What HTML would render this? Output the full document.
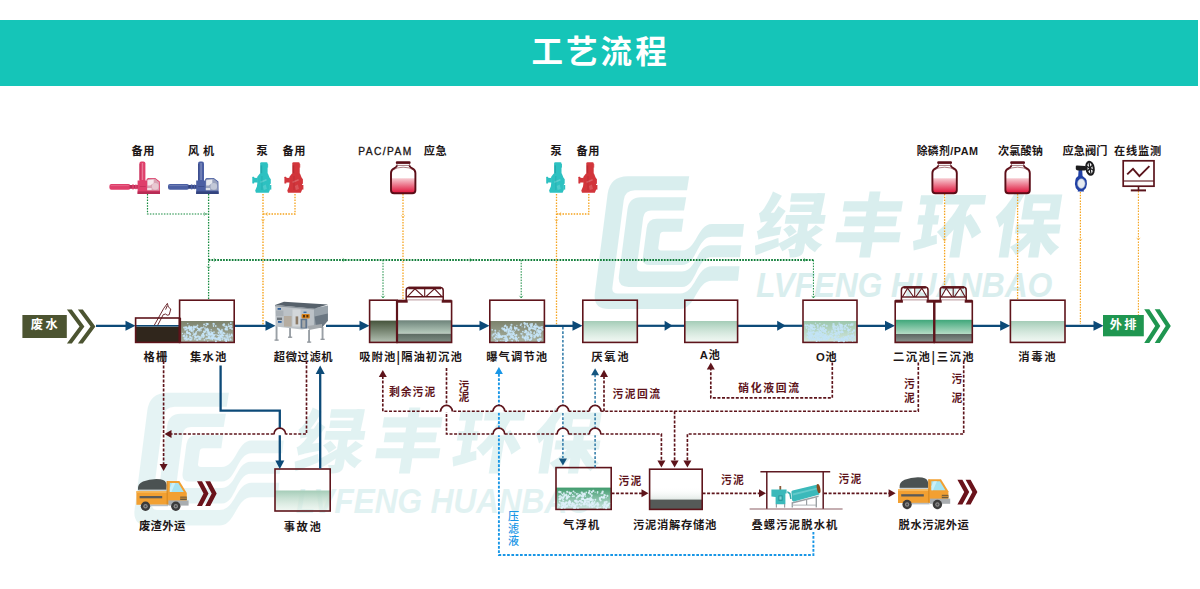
<!DOCTYPE html>
<html lang="zh-CN"><head><meta charset="utf-8"><title>工艺流程</title>
<style>
html,body{margin:0;padding:0;background:#fff;}
body{width:1200px;height:589px;overflow:hidden;font-family:"Liberation Sans","Noto Sans CJK SC",sans-serif;}
svg{display:block;font-family:"Liberation Sans","Noto Sans CJK SC",sans-serif;}
</style></head><body>
<svg width="1200" height="589" viewBox="0 0 1200 589">
<defs>
<linearGradient id="gWater" x1="0" y1="0" x2="0" y2="1"><stop offset="0" stop-color="#a4ccb7"/><stop offset="1" stop-color="#e6f2ea" stop-opacity="0.55"/></linearGradient>
<linearGradient id="gOlive" x1="0" y1="0" x2="0" y2="1"><stop offset="0" stop-color="#46543c"/><stop offset="1" stop-color="#b4c2b4"/></linearGradient>
<linearGradient id="gOil1" x1="0" y1="0" x2="0" y2="1"><stop offset="0" stop-color="#6d837a"/><stop offset="1" stop-color="#b9cdbf"/></linearGradient>
<linearGradient id="gOil2" x1="0" y1="0" x2="0" y2="1"><stop offset="0" stop-color="#5c6b62"/><stop offset="1" stop-color="#7f8f85"/></linearGradient>
<linearGradient id="gBub" x1="0" y1="0" x2="0" y2="1"><stop offset="0" stop-color="#7c826c"/><stop offset="1" stop-color="#aab4a4"/></linearGradient>
<linearGradient id="gBubG" x1="0" y1="0" x2="0" y2="1"><stop offset="0" stop-color="#9cc6ac"/><stop offset="1" stop-color="#d4e8de"/></linearGradient>
<linearGradient id="gFloat" x1="0" y1="0" x2="0" y2="1"><stop offset="0" stop-color="#3f9a6c"/><stop offset="1" stop-color="#cfe8e4"/></linearGradient>
<linearGradient id="gSed1" x1="0" y1="0" x2="0" y2="1"><stop offset="0" stop-color="#3fa77a"/><stop offset="1" stop-color="#b5dcc6"/></linearGradient>
<linearGradient id="gSed2" x1="0" y1="0" x2="0" y2="1"><stop offset="0" stop-color="#5d6662"/><stop offset="1" stop-color="#8b9590"/></linearGradient>
<linearGradient id="gStore" x1="0" y1="0" x2="0" y2="1"><stop offset="0" stop-color="#ffffff" stop-opacity="0"/><stop offset="0.45" stop-color="#ffffff" stop-opacity="0"/><stop offset="1" stop-color="#9fb8ad"/></linearGradient>
<linearGradient id="gJar" x1="0" y1="0" x2="0" y2="1"><stop offset="0" stop-color="#f7cdd3"/><stop offset="1" stop-color="#df0f37"/></linearGradient>
</defs>

<rect x="0" y="20" width="1198" height="66" fill="#15c5b8"/>
<text x="600.6" y="63" font-size="31.5" font-weight="700" fill="#fff" text-anchor="middle" letter-spacing="3.1">工艺流程</text>
<g opacity="0.155" transform="translate(0,0)" fill="#14999b">
<path d="M689.2,176.3 L627.9,176.3 Q609.9,176.3 607.6,194.3 L594.9,293.0 Q592.8,309.0 608.8,309.0 L680.0,309.0 C696.0,309.0 696.0,280.8 712.0,280.8 L738.0,280.8 L739.5,266.3 L712.0,266.3 C696.0,266.3 696.0,293.5 680.0,293.5 L617.6,293.5 Q611.6,293.5 612.4,287.5 L623.7,200.2 Q624.9,190.2 634.9,190.2 L687.0,190.2 Z"/>
<path d="M686.2,197.3 L641.0,197.3 Q629.0,197.3 627.5,209.3 L618.9,276.0 Q617.5,287.0 628.5,287.0 L682.0,287.0 C696.5,287.0 696.5,257.2 711.0,257.2 L740.0,257.2 L741.3,245.3 L711.0,245.3 C696.5,245.3 696.5,271.5 682.0,271.5 L641.3,271.5 Q636.3,271.5 636.9,266.5 L643.2,217.4 Q644.1,210.4 651.1,210.4 L684.0,210.4 Z"/>
<path d="M683.4,218.8 L656.9,218.8 Q647.9,218.8 646.7,227.8 L642.9,257.0 Q641.9,265.0 649.9,265.0 L682.0,265.0 C697.0,265.0 697.0,236.7 712.0,236.7 L742.6,236.7 L744.0,224.0 L712.0,224.0 C697.0,224.0 697.0,250.5 682.0,250.5 L661.0,250.5 Q658.0,250.5 658.3,247.5 L660.0,234.8 Q660.4,231.8 663.4,231.8 L681.6,231.8 Z"/>
</g>
<g opacity="0.155">
<g transform="translate(0,0)" fill="#14999b">
<text x="752" y="251" font-size="69.5" font-weight="900" letter-spacing="9.6" transform="translate(752,251) skewX(-9) translate(-752,-251)">绿丰环保</text>
<text x="756" y="296.6" font-size="35.5" font-weight="700" font-style="italic" letter-spacing="-0.3" textLength="296" lengthAdjust="spacingAndGlyphs">LVFENG HUANBAO</text>
</g></g>
<g opacity="0.105" transform="translate(-460.3,216.5)" fill="#14999b">
<path d="M689.2,176.3 L627.9,176.3 Q609.9,176.3 607.6,194.3 L594.9,293.0 Q592.8,309.0 608.8,309.0 L680.0,309.0 C696.0,309.0 696.0,280.8 712.0,280.8 L738.0,280.8 L739.5,266.3 L712.0,266.3 C696.0,266.3 696.0,293.5 680.0,293.5 L617.6,293.5 Q611.6,293.5 612.4,287.5 L623.7,200.2 Q624.9,190.2 634.9,190.2 L687.0,190.2 Z"/>
<path d="M686.2,197.3 L641.0,197.3 Q629.0,197.3 627.5,209.3 L618.9,276.0 Q617.5,287.0 628.5,287.0 L682.0,287.0 C696.5,287.0 696.5,257.2 711.0,257.2 L740.0,257.2 L741.3,245.3 L711.0,245.3 C696.5,245.3 696.5,271.5 682.0,271.5 L641.3,271.5 Q636.3,271.5 636.9,266.5 L643.2,217.4 Q644.1,210.4 651.1,210.4 L684.0,210.4 Z"/>
<path d="M683.4,218.8 L656.9,218.8 Q647.9,218.8 646.7,227.8 L642.9,257.0 Q641.9,265.0 649.9,265.0 L682.0,265.0 C697.0,265.0 697.0,236.7 712.0,236.7 L742.6,236.7 L744.0,224.0 L712.0,224.0 C697.0,224.0 697.0,250.5 682.0,250.5 L661.0,250.5 Q658.0,250.5 658.3,247.5 L660.0,234.8 Q660.4,231.8 663.4,231.8 L681.6,231.8 Z"/>
</g>
<g opacity="0.12">
<g transform="translate(-460.3,216.5)" fill="#14999b">
<text x="752" y="251" font-size="69.5" font-weight="900" letter-spacing="9.6" transform="translate(752,251) skewX(-9) translate(-752,-251)">绿丰环保</text>
<text x="756" y="296.6" font-size="35.5" font-weight="700" font-style="italic" letter-spacing="-0.3" textLength="296" lengthAdjust="spacingAndGlyphs">LVFENG HUANBAO</text>
</g></g>
<path d="M147.5,194 L147.5,214 L208.6,214" fill="none" stroke="#148a3e" stroke-width="1.2" stroke-dasharray="1.5 1.3" />
<path d="M208.6,194 L208.6,299" fill="none" stroke="#148a3e" stroke-width="1.3" stroke-dasharray="1.5 1.3" />
<path d="M208.6,260 L813.4,260" fill="none" stroke="#0f7d38" stroke-width="1.9" stroke-dasharray="1.7 1.2" />
<path d="M383,260 L383,299" fill="none" stroke="#148a3e" stroke-width="1.0" stroke-dasharray="1.5 1.3" />
<path d="M521.2,260 L521.2,299" fill="none" stroke="#148a3e" stroke-width="1.0" stroke-dasharray="1.5 1.3" />
<path d="M813.4,260 L813.4,299" fill="none" stroke="#148a3e" stroke-width="1.0" stroke-dasharray="1.5 1.3" />
<path d="M263,194 L263,325" fill="none" stroke="#f5a31c" stroke-width="1.4" stroke-dasharray="1.5 1.3" />
<path d="M295,194 L295,214 L263,214" fill="none" stroke="#f5a31c" stroke-width="1.3" stroke-dasharray="1.5 1.3" />
<path d="M403,194 L403,299" fill="none" stroke="#f5a31c" stroke-width="1.3" stroke-dasharray="1.5 1.3" />
<path d="M556.5,194 L556.5,325" fill="none" stroke="#f5a31c" stroke-width="1.3" stroke-dasharray="1.5 1.3" />
<path d="M588.8,194 L588.8,214 L556.5,214" fill="none" stroke="#f5a31c" stroke-width="1.3" stroke-dasharray="1.5 1.3" />
<path d="M944.6,194 L944.6,288" fill="none" stroke="#f5a31c" stroke-width="1.3" stroke-dasharray="1.5 1.3" />
<path d="M1017.6,194 L1017.6,299" fill="none" stroke="#f5a31c" stroke-width="1.3" stroke-dasharray="1.5 1.3" />
<path d="M1080.4,192 L1080.4,324" fill="none" stroke="#f5a31c" stroke-width="1.2" stroke-dasharray="1.5 1.3" />
<path d="M1138.4,191 L1138.4,315" fill="none" stroke="#f5a31c" stroke-width="1.1" stroke-dasharray="1.5 1.3" />
<path d="M203.8,212.3 L206,214 L203.8,215.7" fill="none" stroke="#148a3e" stroke-width="0.7" opacity="0.85"/>
<path d="M206.9,266.3 L208.6,268.5 L210.29999999999998,266.3" fill="none" stroke="#148a3e" stroke-width="0.7" opacity="0.85"/>
<path d="M213.8,258.3 L216,260 L213.8,261.7" fill="none" stroke="#148a3e" stroke-width="0.7" opacity="0.85"/>
<path d="M342.8,258.3 L345,260 L342.8,261.7" fill="none" stroke="#148a3e" stroke-width="0.7" opacity="0.85"/>
<path d="M469.8,258.3 L472,260 L469.8,261.7" fill="none" stroke="#148a3e" stroke-width="0.7" opacity="0.85"/>
<path d="M643.8,258.3 L646,260 L643.8,261.7" fill="none" stroke="#148a3e" stroke-width="0.7" opacity="0.85"/>
<path d="M803.8,258.3 L806,260 L803.8,261.7" fill="none" stroke="#148a3e" stroke-width="0.7" opacity="0.85"/>
<path d="M381.3,295.8 L383,298 L384.7,295.8" fill="none" stroke="#148a3e" stroke-width="0.7" opacity="0.85"/>
<path d="M519.5,295.8 L521.2,298 L522.9000000000001,295.8" fill="none" stroke="#148a3e" stroke-width="0.7" opacity="0.85"/>
<path d="M811.6999999999999,295.8 L813.4,298 L815.1,295.8" fill="none" stroke="#148a3e" stroke-width="0.7" opacity="0.85"/>
<path d="M267.7,212.3 L265.5,214 L267.7,215.7" fill="none" stroke="#f5a31c" stroke-width="0.7" opacity="0.85"/>
<path d="M261.3,219.3 L263,221.5 L264.7,219.3" fill="none" stroke="#f5a31c" stroke-width="0.7" opacity="0.85"/>
<path d="M401.3,215.3 L403,217.5 L404.7,215.3" fill="none" stroke="#f5a31c" stroke-width="0.7" opacity="0.85"/>
<path d="M561.2,212.3 L559,214 L561.2,215.7" fill="none" stroke="#f5a31c" stroke-width="0.7" opacity="0.85"/>
<path d="M554.8,219.3 L556.5,221.5 L558.2,219.3" fill="none" stroke="#f5a31c" stroke-width="0.7" opacity="0.85"/>
<path d="M942.9,238.8 L944.6,241 L946.3000000000001,238.8" fill="none" stroke="#f5a31c" stroke-width="0.7" opacity="0.85"/>
<path d="M1015.9,238.8 L1017.6,241 L1019.3000000000001,238.8" fill="none" stroke="#f5a31c" stroke-width="0.7" opacity="0.85"/>
<path d="M1078.7,238.8 L1080.4,241 L1082.1000000000001,238.8" fill="none" stroke="#f5a31c" stroke-width="0.7" opacity="0.85"/>
<path d="M1136.7,237.8 L1138.4,240 L1140.1000000000001,237.8" fill="none" stroke="#f5a31c" stroke-width="0.7" opacity="0.85"/>
<path d="M96,325.8 L130.5,325.8" fill="none" stroke="#0c4a78" stroke-width="2.2" />
<polygon points="135.5,325.8 125.5,320.8 125.5,330.8" fill="#0c4a78"/>
<path d="M234,325.8 L270.5,325.8" fill="none" stroke="#0c4a78" stroke-width="2.2" />
<polygon points="275.5,325.8 265.5,320.8 265.5,330.8" fill="#0c4a78"/>
<path d="M326,325.8 L364.5,325.8" fill="none" stroke="#0c4a78" stroke-width="2.2" />
<polygon points="369.5,325.8 359.5,320.8 359.5,330.8" fill="#0c4a78"/>
<path d="M452,325.8 L484.5,325.8" fill="none" stroke="#0c4a78" stroke-width="2.2" />
<polygon points="489.5,325.8 479.5,320.8 479.5,330.8" fill="#0c4a78"/>
<path d="M545,325.8 L577.5,325.8" fill="none" stroke="#0c4a78" stroke-width="2.2" />
<polygon points="582.5,325.8 572.5,320.8 572.5,330.8" fill="#0c4a78"/>
<path d="M638,325.8 L667.6,325.8" fill="none" stroke="#0c4a78" stroke-width="2.2" />
<polygon points="672.6,325.8 664.6,320.8 664.6,330.8" fill="#0c4a78"/>
<path d="M666,325.8 L684.5,325.8" fill="none" stroke="#0c4a78" stroke-width="2.2" />
<path d="M738,325.8 L780.8,325.8" fill="none" stroke="#0c4a78" stroke-width="2.2" />
<polygon points="785.8,325.8 777.1999999999999,320.8 777.1999999999999,330.8" fill="#0c4a78"/>
<path d="M779,325.8 L802.8,325.8" fill="none" stroke="#0c4a78" stroke-width="2.2" />
<path d="M857,325.8 L890,325.8" fill="none" stroke="#0c4a78" stroke-width="2.2" />
<polygon points="895,325.8 885,320.8 885,330.8" fill="#0c4a78"/>
<path d="M972,325.8 L1005.2,325.8" fill="none" stroke="#0c4a78" stroke-width="2.2" />
<polygon points="1010.2,325.8 1000.2,320.8 1000.2,330.8" fill="#0c4a78"/>
<path d="M1065,325.8 L1098.5,325.8" fill="none" stroke="#0c4a78" stroke-width="2.2" />
<polygon points="1103.5,325.8 1093.5,320.8 1093.5,330.8" fill="#0c4a78"/>
<rect x="22.4" y="315" width="44.4" height="23" fill="#4c5431"/>
<text x="45.6" y="329.4" font-size="12.2" fill="#fff" font-weight="700" text-anchor="middle" letter-spacing="2.6" >废水</text>
<polygon points="66.9,309.4 71.8,309.4 84.4,326.4 71.8,343.4 66.9,343.4 79.5,326.4" fill="#4c5431"/>
<polygon points="77.9,309.4 82.8,309.4 95.4,326.4 82.8,343.4 77.9,343.4 90.5,326.4" fill="#4c5431"/>
<rect x="1103" y="315" width="40.8" height="21.3" fill="#1f9650"/>
<text x="1124.2" y="329.2" font-size="12.2" fill="#fff" font-weight="700" text-anchor="middle" letter-spacing="2.2" >外排</text>
<polygon points="1144.2,309.2 1149.3,309.2 1160.3,326.1 1149.3,343.0 1144.2,343.0 1155.2,326.1" fill="#1f9650"/>
<polygon points="1154.7,309.2 1159.8,309.2 1170.8,326.1 1159.8,343.0 1154.7,343.0 1165.7,326.1" fill="#1f9650"/>
<rect x="135.6" y="326.6" width="44" height="15.8" fill="#30261c"/>
<path d="M135.6,325.8 L179.6,325.8" fill="none" stroke="#0c4a78" stroke-width="1.6" />
<rect x="135.6" y="318" width="44" height="24.4" fill="none" stroke="#5e141b" stroke-width="1.6"/>
<path d="M154.2,325.4 L163.8,308.3 L167.4,303.4 L168.3,307 L170.8,309 L169.2,314.8 Q167,316 165.6,314 L163.2,314.7 L157.6,325.4 M165.6,309.6 L167.2,305.8" fill="none" stroke="#5e141b" stroke-width="0.9" />
<rect x="179.6" y="321" width="54.599999999999994" height="21.399999999999977" fill="url(#gBub)"/>
<rect x="179.6" y="300.2" width="54.599999999999994" height="42.19999999999999" fill="none" stroke="#5e141b" stroke-width="1.6"/>
<g fill="#c6e5f8" fill-opacity="0.88"><circle cx="191.5" cy="339.6" r="0.86"/><circle cx="188.7" cy="338.7" r="0.87"/><circle cx="190.7" cy="337.3" r="0.94"/><circle cx="189.7" cy="336.1" r="0.72"/><circle cx="222.0" cy="333.9" r="0.90"/><circle cx="223.1" cy="333.3" r="0.69"/><circle cx="221.3" cy="334.0" r="0.69"/><circle cx="219.9" cy="334.4" r="0.70"/><circle cx="195.6" cy="327.0" r="1.15"/><circle cx="194.8" cy="327.4" r="0.96"/><circle cx="193.9" cy="326.6" r="1.03"/><circle cx="197.5" cy="325.5" r="0.88"/><circle cx="204.4" cy="339.9" r="0.81"/><circle cx="206.3" cy="338.5" r="1.12"/><circle cx="221.1" cy="336.7" r="1.10"/><circle cx="218.6" cy="337.8" r="0.86"/><circle cx="219.3" cy="338.6" r="0.95"/><circle cx="218.4" cy="335.4" r="0.66"/><circle cx="220.4" cy="336.5" r="0.68"/><circle cx="222.2" cy="335.5" r="0.81"/><circle cx="198.4" cy="336.6" r="1.02"/><circle cx="197.2" cy="339.8" r="1.17"/><circle cx="201.3" cy="337.5" r="0.63"/><circle cx="199.8" cy="337.2" r="1.17"/><circle cx="203.7" cy="331.3" r="0.82"/><circle cx="208.2" cy="330.1" r="1.06"/><circle cx="205.1" cy="331.6" r="1.07"/><circle cx="204.9" cy="328.8" r="0.67"/><circle cx="207.9" cy="331.0" r="1.10"/><circle cx="206.6" cy="329.9" r="1.16"/><circle cx="186.4" cy="339.0" r="0.96"/><circle cx="186.1" cy="338.8" r="0.65"/><circle cx="185.4" cy="338.3" r="0.73"/><circle cx="186.0" cy="337.0" r="0.76"/><circle cx="206.2" cy="323.4" r="0.71"/><circle cx="207.5" cy="324.1" r="1.18"/><circle cx="206.1" cy="325.7" r="0.57"/><circle cx="207.5" cy="324.0" r="0.88"/><circle cx="212.4" cy="334.5" r="0.92"/><circle cx="212.4" cy="337.2" r="0.59"/><circle cx="212.1" cy="338.8" r="1.12"/><circle cx="212.3" cy="337.9" r="0.75"/><circle cx="215.9" cy="334.7" r="0.82"/><circle cx="213.4" cy="335.7" r="1.12"/><circle cx="230.2" cy="336.3" r="0.92"/><circle cx="231.6" cy="334.6" r="0.87"/><circle cx="231.4" cy="335.2" r="0.88"/><circle cx="232.1" cy="335.9" r="0.81"/><circle cx="229.8" cy="336.4" r="1.11"/><circle cx="222.6" cy="335.2" r="1.09"/><circle cx="223.4" cy="332.9" r="1.12"/><circle cx="221.4" cy="332.0" r="1.19"/><circle cx="222.3" cy="335.4" r="0.61"/><circle cx="223.8" cy="335.9" r="0.69"/><circle cx="201.2" cy="327.6" r="0.87"/><circle cx="198.3" cy="328.6" r="0.76"/><circle cx="199.4" cy="330.4" r="1.19"/><circle cx="201.2" cy="330.2" r="0.62"/><circle cx="197.6" cy="328.1" r="0.60"/><circle cx="198.8" cy="329.1" r="1.17"/><circle cx="199.3" cy="329.2" r="1.06"/><circle cx="200.7" cy="328.7" r="0.99"/><circle cx="205.0" cy="328.0" r="0.83"/><circle cx="206.1" cy="325.4" r="0.90"/><circle cx="204.1" cy="324.4" r="1.01"/><circle cx="202.7" cy="327.7" r="0.74"/><circle cx="196.7" cy="326.6" r="0.75"/><circle cx="186.9" cy="339.7" r="0.95"/><circle cx="188.0" cy="339.0" r="1.00"/><circle cx="185.4" cy="338.3" r="0.90"/><circle cx="185.6" cy="340.1" r="0.60"/><circle cx="203.5" cy="335.5" r="0.76"/><circle cx="203.3" cy="337.1" r="1.13"/><circle cx="204.1" cy="335.9" r="0.90"/><circle cx="211.5" cy="332.7" r="0.72"/><circle cx="212.6" cy="332.3" r="0.56"/><circle cx="184.1" cy="335.9" r="0.88"/><circle cx="183.7" cy="336.0" r="1.17"/><circle cx="184.8" cy="338.5" r="1.19"/><circle cx="184.1" cy="335.4" r="0.62"/><circle cx="197.7" cy="336.5" r="0.96"/><circle cx="196.2" cy="337.4" r="1.16"/><circle cx="232.0" cy="329.1" r="0.98"/><circle cx="230.6" cy="327.9" r="1.18"/><circle cx="231.3" cy="325.9" r="0.90"/><circle cx="231.6" cy="326.3" r="0.81"/><circle cx="229.9" cy="328.3" r="0.57"/><circle cx="229.6" cy="326.3" r="0.92"/><circle cx="189.0" cy="332.7" r="0.73"/><circle cx="185.1" cy="329.6" r="0.61"/><circle cx="185.0" cy="330.0" r="0.76"/><circle cx="226.2" cy="340.8" r="0.86"/><circle cx="226.3" cy="340.6" r="0.91"/><circle cx="229.0" cy="337.7" r="0.73"/><circle cx="213.2" cy="323.8" r="0.88"/><circle cx="214.4" cy="324.0" r="0.74"/><circle cx="213.5" cy="326.4" r="0.66"/><circle cx="213.6" cy="323.4" r="0.61"/><circle cx="215.7" cy="326.0" r="0.88"/><circle cx="213.5" cy="325.3" r="0.83"/><circle cx="227.3" cy="334.1" r="0.78"/><circle cx="227.4" cy="335.9" r="1.02"/><circle cx="229.2" cy="334.2" r="0.72"/><circle cx="231.8" cy="334.2" r="0.64"/><circle cx="217.0" cy="339.0" r="1.18"/><circle cx="218.3" cy="339.6" r="0.83"/><circle cx="191.7" cy="329.2" r="0.94"/><circle cx="190.3" cy="329.8" r="0.74"/><circle cx="191.0" cy="331.6" r="0.55"/><circle cx="191.6" cy="330.7" r="0.56"/><circle cx="189.4" cy="328.1" r="1.09"/><circle cx="191.9" cy="330.8" r="1.09"/><circle cx="190.0" cy="329.6" r="1.11"/><circle cx="193.7" cy="329.8" r="0.82"/><circle cx="193.7" cy="329.3" r="1.12"/><circle cx="194.8" cy="338.9" r="0.90"/><circle cx="195.5" cy="337.0" r="1.18"/><circle cx="187.4" cy="333.1" r="1.04"/><circle cx="189.2" cy="332.9" r="1.02"/><circle cx="188.4" cy="333.6" r="0.77"/><circle cx="189.3" cy="330.6" r="0.62"/><circle cx="225.6" cy="328.8" r="1.03"/><circle cx="227.1" cy="329.5" r="1.15"/><circle cx="225.7" cy="329.4" r="1.16"/><circle cx="226.1" cy="326.6" r="1.01"/><circle cx="206.2" cy="335.1" r="0.83"/><circle cx="202.0" cy="336.6" r="0.93"/><circle cx="204.3" cy="332.3" r="1.04"/><circle cx="202.0" cy="335.2" r="0.97"/><circle cx="203.3" cy="333.6" r="0.81"/><circle cx="203.1" cy="333.8" r="1.16"/><circle cx="224.2" cy="338.2" r="1.07"/><circle cx="218.7" cy="339.1" r="0.75"/><circle cx="219.5" cy="338.3" r="0.66"/><circle cx="219.4" cy="338.0" r="0.61"/><circle cx="220.2" cy="337.8" r="0.59"/><circle cx="219.8" cy="338.3" r="1.01"/><circle cx="197.2" cy="328.4" r="0.60"/><circle cx="197.2" cy="327.7" r="0.79"/><circle cx="193.7" cy="328.9" r="0.66"/><circle cx="212.9" cy="337.5" r="0.81"/><circle cx="213.0" cy="336.7" r="0.72"/><circle cx="212.5" cy="334.5" r="0.72"/><circle cx="213.6" cy="335.2" r="0.98"/><circle cx="225.2" cy="338.0" r="0.72"/><circle cx="226.4" cy="339.3" r="1.12"/><circle cx="222.2" cy="337.6" r="1.16"/><circle cx="226.4" cy="340.9" r="0.85"/><circle cx="225.5" cy="340.3" r="1.13"/><circle cx="203.7" cy="327.1" r="0.75"/><circle cx="205.5" cy="330.0" r="0.87"/><circle cx="190.5" cy="327.4" r="0.99"/><circle cx="185.9" cy="327.2" r="1.02"/><circle cx="189.1" cy="326.2" r="0.98"/><circle cx="187.5" cy="328.9" r="0.66"/><circle cx="188.0" cy="328.0" r="0.84"/><circle cx="187.8" cy="323.6" r="0.70"/><circle cx="196.4" cy="331.9" r="0.94"/><circle cx="201.0" cy="330.8" r="0.58"/><circle cx="197.6" cy="330.6" r="0.76"/><circle cx="195.1" cy="334.2" r="1.15"/><circle cx="194.0" cy="334.7" r="1.04"/><circle cx="191.8" cy="338.0" r="0.92"/><circle cx="190.3" cy="339.7" r="0.97"/><circle cx="190.2" cy="339.4" r="0.90"/><circle cx="218.9" cy="329.5" r="1.00"/><circle cx="222.0" cy="329.6" r="0.80"/><circle cx="217.8" cy="328.7" r="0.97"/><circle cx="220.7" cy="331.6" r="1.16"/><circle cx="219.4" cy="330.5" r="0.94"/><circle cx="208.1" cy="332.2" r="1.01"/><circle cx="206.5" cy="332.0" r="0.60"/><circle cx="209.8" cy="334.4" r="1.18"/><circle cx="210.9" cy="333.0" r="0.61"/><circle cx="186.5" cy="327.6" r="1.08"/><circle cx="184.3" cy="327.6" r="1.19"/><circle cx="187.1" cy="331.5" r="1.13"/><circle cx="182.5" cy="333.5" r="0.73"/><circle cx="184.9" cy="334.0" r="0.75"/><circle cx="224.3" cy="326.2" r="0.63"/><circle cx="224.1" cy="324.4" r="1.10"/><circle cx="223.4" cy="325.0" r="1.15"/><circle cx="211.0" cy="331.8" r="0.80"/><circle cx="210.3" cy="333.8" r="0.63"/><circle cx="212.3" cy="333.1" r="1.07"/><circle cx="209.4" cy="332.3" r="0.76"/><circle cx="195.2" cy="336.3" r="1.14"/><circle cx="195.5" cy="337.5" r="0.59"/><circle cx="230.3" cy="339.0" r="0.64"/><circle cx="225.6" cy="339.8" r="1.20"/><circle cx="223.6" cy="335.5" r="0.79"/><circle cx="220.0" cy="337.3" r="0.77"/><circle cx="220.4" cy="335.7" r="0.71"/><circle cx="220.9" cy="336.4" r="0.62"/><circle cx="222.3" cy="339.3" r="1.01"/><circle cx="220.1" cy="340.1" r="0.92"/><circle cx="213.3" cy="337.6" r="1.11"/><circle cx="215.4" cy="338.4" r="1.10"/><circle cx="213.6" cy="337.2" r="1.13"/><circle cx="210.4" cy="338.7" r="1.14"/><circle cx="212.5" cy="339.7" r="0.60"/><circle cx="214.2" cy="335.4" r="0.81"/><circle cx="213.8" cy="338.5" r="0.80"/><circle cx="212.3" cy="338.0" r="0.95"/><circle cx="208.6" cy="332.4" r="0.67"/><circle cx="206.8" cy="335.5" r="0.55"/><circle cx="208.6" cy="334.4" r="1.13"/><circle cx="207.5" cy="330.1" r="0.90"/><circle cx="214.0" cy="332.1" r="0.89"/><circle cx="208.9" cy="332.1" r="0.84"/><circle cx="211.7" cy="334.2" r="0.64"/><circle cx="211.2" cy="329.7" r="0.71"/><circle cx="212.2" cy="333.2" r="0.98"/><circle cx="212.2" cy="333.5" r="0.73"/><circle cx="217.5" cy="335.3" r="0.80"/><circle cx="212.0" cy="337.0" r="0.79"/><circle cx="219.7" cy="330.6" r="0.64"/><circle cx="222.2" cy="335.4" r="1.08"/><circle cx="218.6" cy="332.5" r="1.06"/><circle cx="220.7" cy="331.6" r="1.16"/><circle cx="218.7" cy="333.3" r="0.73"/><circle cx="200.7" cy="338.8" r="0.83"/><circle cx="200.2" cy="339.5" r="0.65"/><circle cx="199.1" cy="338.6" r="0.65"/><circle cx="199.3" cy="338.6" r="0.97"/><circle cx="199.2" cy="339.3" r="0.83"/><circle cx="226.8" cy="327.4" r="1.18"/><circle cx="230.6" cy="325.8" r="0.82"/><circle cx="228.6" cy="324.3" r="0.72"/><circle cx="228.7" cy="326.3" r="1.07"/><circle cx="230.8" cy="323.1" r="0.99"/><circle cx="186.4" cy="329.1" r="0.81"/><circle cx="185.8" cy="329.6" r="0.65"/><circle cx="185.3" cy="329.1" r="0.66"/><circle cx="187.1" cy="332.6" r="1.16"/><circle cx="211.3" cy="337.2" r="0.96"/><circle cx="209.3" cy="338.0" r="1.04"/><circle cx="208.7" cy="337.2" r="1.13"/><circle cx="208.7" cy="338.0" r="0.96"/><circle cx="207.8" cy="341.1" r="0.62"/><circle cx="207.6" cy="338.4" r="0.71"/><circle cx="190.6" cy="328.0" r="1.09"/><circle cx="186.3" cy="328.1" r="0.73"/><circle cx="188.8" cy="328.4" r="0.87"/><circle cx="188.0" cy="328.3" r="0.71"/><circle cx="191.4" cy="330.2" r="1.03"/><circle cx="188.6" cy="327.6" r="0.65"/><circle cx="206.5" cy="334.2" r="0.76"/><circle cx="207.9" cy="333.3" r="0.72"/><circle cx="209.0" cy="333.6" r="1.01"/><circle cx="207.8" cy="335.3" r="0.75"/><circle cx="208.8" cy="337.3" r="1.08"/><circle cx="210.6" cy="334.5" r="1.03"/><circle cx="195.5" cy="336.6" r="0.71"/><circle cx="196.3" cy="334.0" r="0.58"/><circle cx="186.7" cy="337.6" r="0.79"/><circle cx="189.9" cy="337.4" r="0.79"/><circle cx="186.3" cy="334.1" r="0.61"/><circle cx="186.6" cy="336.2" r="1.13"/><circle cx="219.1" cy="337.1" r="0.95"/><circle cx="219.1" cy="335.7" r="0.90"/><circle cx="218.4" cy="337.7" r="0.96"/><circle cx="220.6" cy="335.9" r="0.88"/><circle cx="193.4" cy="327.8" r="1.16"/><circle cx="191.4" cy="328.2" r="1.01"/><circle cx="191.4" cy="327.1" r="1.19"/><circle cx="190.1" cy="328.8" r="1.07"/><circle cx="189.3" cy="327.5" r="0.95"/><circle cx="190.6" cy="327.8" r="0.60"/><circle cx="212.6" cy="333.1" r="0.77"/><circle cx="211.6" cy="334.7" r="1.10"/><circle cx="209.7" cy="336.2" r="0.63"/><circle cx="209.9" cy="334.6" r="0.98"/><circle cx="211.6" cy="333.5" r="0.56"/><circle cx="228.8" cy="336.2" r="0.62"/><circle cx="230.6" cy="339.5" r="0.99"/><circle cx="228.7" cy="340.5" r="0.81"/><circle cx="228.2" cy="339.4" r="1.06"/><circle cx="227.4" cy="337.7" r="1.08"/><circle cx="220.4" cy="333.0" r="0.92"/><circle cx="224.6" cy="333.5" r="0.86"/><circle cx="221.9" cy="330.9" r="0.95"/><circle cx="226.2" cy="335.7" r="1.12"/><circle cx="202.1" cy="335.2" r="0.78"/><circle cx="203.4" cy="334.9" r="1.07"/><circle cx="192.9" cy="331.7" r="0.66"/><circle cx="193.3" cy="332.9" r="0.77"/><circle cx="193.4" cy="330.7" r="0.56"/><circle cx="195.7" cy="333.4" r="1.09"/><circle cx="192.8" cy="335.7" r="0.71"/><circle cx="190.3" cy="334.0" r="0.79"/><circle cx="190.1" cy="334.3" r="1.16"/><circle cx="190.0" cy="336.4" r="0.63"/><circle cx="206.0" cy="328.9" r="0.57"/><circle cx="207.4" cy="328.8" r="1.05"/><circle cx="216.3" cy="338.6" r="0.62"/><circle cx="215.1" cy="338.7" r="1.08"/><circle cx="214.4" cy="335.0" r="0.70"/><circle cx="220.0" cy="340.1" r="0.98"/><circle cx="215.9" cy="341.3" r="1.05"/><circle cx="220.3" cy="339.2" r="0.66"/></g>
<path d="M179.9,318 L179.9,342.4" fill="none" stroke="#5e141b" stroke-width="2.4" />
<rect x="369.6" y="320.6" width="27.399999999999977" height="21.799999999999955" fill="url(#gOlive)"/>
<rect x="369.6" y="300.2" width="27.399999999999977" height="42.19999999999999" fill="none" stroke="#5e141b" stroke-width="1.6"/>
<rect x="397" y="320.3" width="54.6" height="13.4" fill="url(#gOil1)"/>
<rect x="397" y="333.7" width="54.6" height="8.7" fill="url(#gOil2)"/>
<path d="M397,301.2 L407.7,301.2" fill="none" stroke="#5e141b" stroke-width="3" />
<path d="M441.7,301.2 L451.6,301.2" fill="none" stroke="#5e141b" stroke-width="3" />
<path d="M407.2,299.9 L442.2,299.9" fill="none" stroke="#b08a8e" stroke-width="0.9" />
<path d="M406.2,301.2 L406.2,290.5 Q406.2,287.6 409.2,287.6 L440.2,287.6 Q443.2,287.6 443.2,290.5 L443.2,301.2" fill="none" stroke="#5e141b" stroke-width="1.5" />
<path d="M408.4,288.0 L441.0,288.0" fill="none" stroke="#5e141b" stroke-width="2.4" />
<path d="M406.2,296.8 L443.2,296.8" fill="none" stroke="#5e141b" stroke-width="1.4" />
<path d="M424.7,288.0 L424.7,296.8" fill="none" stroke="#5e141b" stroke-width="1.1" />
<path d="M407.2,296.8 L414.95,288.8 L423.7,296.8" fill="none" stroke="#5e141b" stroke-width="1.1" />
<path d="M425.7,296.8 L434.45,288.8 L442.2,296.8" fill="none" stroke="#5e141b" stroke-width="1.1" />
<path d="M397,300.2 L397,342.4 L451.6,342.4 L451.6,300.2" fill="none" stroke="#5e141b" stroke-width="1.6" />
<path d="M397,300.2 L397,342.4" fill="none" stroke="#5e141b" stroke-width="2.2" />
<rect x="489.8" y="321" width="54.599999999999966" height="21.399999999999977" fill="url(#gBub)"/>
<rect x="489.8" y="300.2" width="54.599999999999966" height="42.19999999999999" fill="none" stroke="#5e141b" stroke-width="1.6"/>
<g fill="#c6e5f8" fill-opacity="0.88"><circle cx="538.6" cy="340.3" r="1.08"/><circle cx="540.0" cy="338.9" r="0.69"/><circle cx="525.8" cy="336.8" r="0.84"/><circle cx="523.9" cy="337.7" r="0.57"/><circle cx="522.5" cy="337.6" r="0.80"/><circle cx="525.4" cy="336.3" r="0.91"/><circle cx="523.9" cy="337.6" r="0.76"/><circle cx="525.2" cy="338.5" r="1.20"/><circle cx="531.3" cy="339.0" r="1.01"/><circle cx="528.0" cy="337.5" r="0.87"/><circle cx="531.6" cy="336.4" r="1.09"/><circle cx="527.9" cy="339.2" r="1.13"/><circle cx="527.9" cy="337.5" r="1.15"/><circle cx="529.2" cy="329.8" r="1.12"/><circle cx="526.0" cy="330.6" r="0.86"/><circle cx="527.1" cy="334.3" r="1.09"/><circle cx="526.3" cy="331.5" r="0.95"/><circle cx="514.7" cy="335.4" r="0.60"/><circle cx="513.8" cy="334.2" r="1.14"/><circle cx="513.6" cy="338.1" r="0.59"/><circle cx="512.0" cy="335.3" r="0.70"/><circle cx="535.4" cy="326.7" r="1.12"/><circle cx="533.1" cy="326.7" r="0.57"/><circle cx="534.7" cy="326.4" r="0.99"/><circle cx="538.8" cy="327.4" r="0.57"/><circle cx="530.4" cy="324.4" r="1.07"/><circle cx="528.4" cy="327.8" r="0.55"/><circle cx="538.2" cy="334.7" r="0.84"/><circle cx="538.7" cy="332.3" r="1.14"/><circle cx="538.5" cy="331.8" r="1.01"/><circle cx="537.3" cy="334.6" r="0.98"/><circle cx="505.5" cy="325.4" r="0.87"/><circle cx="506.8" cy="328.0" r="0.77"/><circle cx="508.0" cy="329.1" r="0.97"/><circle cx="527.8" cy="340.1" r="0.61"/><circle cx="525.6" cy="338.8" r="1.19"/><circle cx="531.6" cy="338.2" r="0.70"/><circle cx="525.7" cy="340.3" r="0.93"/><circle cx="522.7" cy="336.3" r="1.04"/><circle cx="524.1" cy="338.3" r="0.65"/><circle cx="522.5" cy="337.2" r="0.62"/><circle cx="525.9" cy="337.6" r="0.62"/><circle cx="493.5" cy="334.4" r="1.14"/><circle cx="496.7" cy="334.6" r="0.83"/><circle cx="492.1" cy="335.0" r="0.58"/><circle cx="492.5" cy="335.9" r="0.67"/><circle cx="496.6" cy="336.4" r="0.79"/><circle cx="524.4" cy="323.2" r="1.13"/><circle cx="525.4" cy="324.2" r="0.57"/><circle cx="524.7" cy="326.2" r="0.69"/><circle cx="524.8" cy="324.3" r="0.79"/><circle cx="525.4" cy="323.6" r="0.77"/><circle cx="537.3" cy="326.7" r="1.17"/><circle cx="535.8" cy="327.9" r="0.98"/><circle cx="536.4" cy="326.2" r="0.87"/><circle cx="534.9" cy="329.3" r="1.07"/><circle cx="535.7" cy="329.8" r="0.86"/><circle cx="538.7" cy="327.6" r="1.16"/><circle cx="531.8" cy="328.0" r="1.00"/><circle cx="533.3" cy="328.4" r="1.02"/><circle cx="532.9" cy="328.7" r="0.66"/><circle cx="530.7" cy="328.3" r="1.13"/><circle cx="534.5" cy="326.2" r="0.99"/><circle cx="505.2" cy="326.1" r="1.04"/><circle cx="510.5" cy="327.8" r="1.01"/><circle cx="508.8" cy="329.6" r="0.85"/><circle cx="530.3" cy="331.2" r="0.80"/><circle cx="530.8" cy="332.2" r="0.58"/><circle cx="530.7" cy="334.5" r="1.03"/><circle cx="528.9" cy="334.5" r="0.78"/><circle cx="528.5" cy="332.9" r="1.14"/><circle cx="495.8" cy="336.7" r="0.98"/><circle cx="499.2" cy="337.3" r="0.56"/><circle cx="494.5" cy="338.1" r="1.12"/><circle cx="495.2" cy="335.7" r="0.56"/><circle cx="499.4" cy="336.9" r="0.94"/><circle cx="499.7" cy="336.1" r="0.62"/><circle cx="530.9" cy="336.0" r="0.95"/><circle cx="534.9" cy="336.8" r="0.86"/><circle cx="531.5" cy="336.7" r="1.01"/><circle cx="535.1" cy="336.4" r="0.78"/><circle cx="534.1" cy="335.8" r="0.98"/><circle cx="534.4" cy="337.4" r="1.15"/><circle cx="515.6" cy="339.1" r="0.99"/><circle cx="516.0" cy="337.9" r="0.64"/><circle cx="515.4" cy="328.9" r="0.57"/><circle cx="516.7" cy="327.5" r="0.68"/><circle cx="514.7" cy="327.5" r="0.64"/><circle cx="514.6" cy="327.0" r="0.75"/><circle cx="515.4" cy="330.0" r="0.77"/><circle cx="516.8" cy="328.5" r="0.97"/><circle cx="516.6" cy="340.3" r="1.10"/><circle cx="518.7" cy="337.5" r="0.75"/><circle cx="518.3" cy="340.7" r="0.70"/><circle cx="507.1" cy="339.2" r="0.78"/><circle cx="505.7" cy="341.0" r="0.87"/><circle cx="507.6" cy="338.8" r="0.64"/><circle cx="505.5" cy="336.0" r="0.69"/><circle cx="506.3" cy="340.7" r="1.13"/><circle cx="513.9" cy="338.3" r="0.70"/><circle cx="516.5" cy="334.8" r="0.81"/><circle cx="516.3" cy="335.4" r="1.12"/><circle cx="537.7" cy="330.2" r="1.12"/><circle cx="540.3" cy="331.5" r="1.19"/><circle cx="537.2" cy="334.1" r="0.99"/><circle cx="536.7" cy="333.3" r="0.66"/><circle cx="538.7" cy="331.0" r="1.18"/><circle cx="540.1" cy="330.4" r="0.60"/><circle cx="541.2" cy="328.4" r="0.97"/><circle cx="521.1" cy="333.7" r="0.87"/><circle cx="524.5" cy="332.6" r="0.77"/><circle cx="522.7" cy="333.9" r="0.61"/><circle cx="501.3" cy="336.8" r="1.05"/><circle cx="502.9" cy="336.0" r="1.10"/><circle cx="513.1" cy="336.6" r="0.97"/><circle cx="512.8" cy="333.8" r="0.70"/><circle cx="516.4" cy="337.7" r="0.87"/><circle cx="515.2" cy="335.7" r="0.95"/><circle cx="515.4" cy="337.8" r="0.98"/><circle cx="512.2" cy="337.0" r="1.00"/><circle cx="499.2" cy="330.9" r="0.63"/><circle cx="502.9" cy="329.7" r="0.66"/><circle cx="513.2" cy="332.3" r="0.66"/><circle cx="513.4" cy="333.1" r="0.61"/><circle cx="514.3" cy="331.3" r="0.58"/><circle cx="513.0" cy="331.0" r="0.86"/><circle cx="522.0" cy="326.8" r="0.55"/><circle cx="520.6" cy="325.2" r="0.89"/><circle cx="505.1" cy="330.6" r="0.69"/><circle cx="505.6" cy="330.5" r="0.80"/><circle cx="502.3" cy="328.4" r="1.14"/><circle cx="504.2" cy="328.7" r="1.15"/><circle cx="504.9" cy="330.7" r="1.08"/><circle cx="503.8" cy="329.5" r="0.80"/><circle cx="506.9" cy="332.2" r="0.61"/><circle cx="508.4" cy="331.8" r="0.89"/><circle cx="506.1" cy="331.2" r="0.82"/><circle cx="508.7" cy="332.4" r="0.62"/><circle cx="505.3" cy="329.9" r="0.69"/><circle cx="511.5" cy="324.7" r="1.05"/><circle cx="530.8" cy="333.7" r="0.64"/><circle cx="531.6" cy="335.1" r="1.05"/><circle cx="498.4" cy="335.2" r="0.76"/><circle cx="498.8" cy="333.1" r="0.89"/><circle cx="500.6" cy="336.5" r="0.98"/><circle cx="498.8" cy="335.6" r="1.11"/><circle cx="495.1" cy="330.1" r="0.63"/><circle cx="495.3" cy="333.3" r="1.12"/><circle cx="495.3" cy="330.7" r="0.95"/><circle cx="492.2" cy="329.8" r="0.84"/><circle cx="530.6" cy="339.7" r="1.11"/><circle cx="529.9" cy="339.9" r="0.98"/><circle cx="532.9" cy="334.8" r="0.61"/><circle cx="535.9" cy="335.0" r="1.19"/><circle cx="537.7" cy="335.9" r="1.07"/><circle cx="525.3" cy="337.4" r="0.93"/><circle cx="525.8" cy="338.2" r="0.94"/><circle cx="524.7" cy="338.0" r="0.93"/><circle cx="527.1" cy="336.7" r="0.87"/><circle cx="526.3" cy="334.9" r="0.65"/><circle cx="504.8" cy="338.0" r="0.77"/><circle cx="506.3" cy="339.2" r="0.81"/><circle cx="506.2" cy="338.7" r="0.72"/><circle cx="506.4" cy="340.6" r="0.81"/><circle cx="506.3" cy="339.4" r="0.71"/><circle cx="506.9" cy="340.2" r="1.13"/><circle cx="503.5" cy="338.7" r="0.55"/><circle cx="503.8" cy="340.6" r="0.70"/><circle cx="504.0" cy="329.1" r="1.03"/><circle cx="506.3" cy="330.3" r="0.86"/><circle cx="506.8" cy="330.6" r="0.76"/><circle cx="504.1" cy="329.6" r="0.97"/><circle cx="506.9" cy="329.8" r="0.91"/><circle cx="499.1" cy="335.5" r="0.72"/><circle cx="499.1" cy="335.6" r="1.05"/><circle cx="496.9" cy="334.6" r="0.78"/><circle cx="534.3" cy="328.4" r="0.57"/><circle cx="536.9" cy="330.7" r="0.56"/><circle cx="535.7" cy="324.2" r="1.01"/><circle cx="538.9" cy="328.2" r="0.90"/><circle cx="522.8" cy="331.6" r="0.94"/><circle cx="525.4" cy="330.7" r="0.99"/><circle cx="521.5" cy="333.9" r="0.58"/><circle cx="506.3" cy="337.6" r="1.15"/><circle cx="506.0" cy="336.6" r="0.91"/><circle cx="506.9" cy="338.3" r="0.60"/><circle cx="506.2" cy="335.7" r="0.69"/><circle cx="499.7" cy="336.4" r="1.15"/><circle cx="512.2" cy="337.3" r="1.18"/><circle cx="511.9" cy="336.3" r="0.84"/><circle cx="510.0" cy="338.2" r="1.07"/><circle cx="524.9" cy="326.1" r="0.71"/><circle cx="524.7" cy="327.4" r="0.82"/><circle cx="521.3" cy="324.0" r="0.86"/><circle cx="509.8" cy="334.3" r="0.75"/><circle cx="512.4" cy="331.6" r="0.91"/><circle cx="507.9" cy="333.7" r="0.71"/><circle cx="509.7" cy="333.3" r="1.10"/><circle cx="507.8" cy="335.0" r="0.91"/><circle cx="529.5" cy="329.1" r="1.17"/><circle cx="531.1" cy="332.1" r="0.96"/><circle cx="525.6" cy="331.9" r="1.18"/><circle cx="513.6" cy="333.4" r="0.66"/><circle cx="512.3" cy="337.0" r="0.66"/><circle cx="509.5" cy="334.8" r="1.02"/><circle cx="512.5" cy="335.1" r="0.75"/><circle cx="539.6" cy="328.6" r="0.85"/><circle cx="510.5" cy="331.1" r="1.06"/><circle cx="508.7" cy="333.8" r="0.95"/><circle cx="510.8" cy="336.7" r="0.94"/><circle cx="511.3" cy="329.1" r="0.97"/><circle cx="509.6" cy="328.9" r="0.86"/><circle cx="512.9" cy="334.4" r="0.79"/><circle cx="510.9" cy="334.9" r="1.07"/><circle cx="513.5" cy="332.9" r="0.97"/><circle cx="511.2" cy="333.3" r="0.85"/><circle cx="515.0" cy="328.4" r="1.03"/><circle cx="510.8" cy="326.8" r="1.02"/><circle cx="511.5" cy="327.9" r="0.86"/><circle cx="541.3" cy="326.8" r="0.67"/><circle cx="538.7" cy="329.1" r="0.56"/><circle cx="542.1" cy="326.8" r="0.92"/><circle cx="540.3" cy="327.7" r="1.17"/><circle cx="542.4" cy="329.7" r="1.12"/><circle cx="516.3" cy="338.8" r="1.14"/><circle cx="517.0" cy="338.7" r="0.74"/><circle cx="516.7" cy="339.1" r="0.91"/><circle cx="495.7" cy="339.3" r="0.58"/><circle cx="495.3" cy="341.1" r="0.65"/><circle cx="497.1" cy="340.9" r="0.96"/><circle cx="497.5" cy="337.4" r="1.10"/><circle cx="500.3" cy="340.5" r="0.60"/><circle cx="501.7" cy="336.9" r="1.17"/><circle cx="527.6" cy="325.4" r="0.91"/><circle cx="528.0" cy="326.3" r="0.97"/><circle cx="527.1" cy="323.7" r="1.04"/><circle cx="529.4" cy="327.9" r="1.19"/><circle cx="526.9" cy="324.9" r="0.74"/><circle cx="500.5" cy="336.3" r="1.17"/><circle cx="499.0" cy="335.7" r="1.15"/><circle cx="502.0" cy="340.6" r="0.70"/><circle cx="498.2" cy="335.5" r="1.07"/><circle cx="538.9" cy="339.5" r="1.09"/><circle cx="539.0" cy="341.1" r="0.97"/><circle cx="540.3" cy="339.2" r="1.17"/><circle cx="506.4" cy="329.7" r="1.02"/><circle cx="504.8" cy="330.2" r="0.95"/><circle cx="527.5" cy="334.9" r="0.99"/><circle cx="526.0" cy="333.2" r="0.58"/><circle cx="527.6" cy="333.1" r="0.63"/><circle cx="527.9" cy="331.8" r="0.71"/><circle cx="526.9" cy="333.1" r="0.66"/><circle cx="529.1" cy="334.5" r="1.16"/><circle cx="511.2" cy="340.6" r="0.55"/><circle cx="512.3" cy="340.7" r="0.83"/><circle cx="513.3" cy="338.2" r="0.66"/><circle cx="513.7" cy="338.6" r="0.92"/><circle cx="538.1" cy="340.5" r="1.10"/><circle cx="540.2" cy="336.0" r="0.66"/><circle cx="540.2" cy="338.7" r="0.92"/><circle cx="537.6" cy="339.4" r="0.76"/><circle cx="539.9" cy="339.8" r="1.15"/><circle cx="541.1" cy="338.8" r="0.61"/><circle cx="534.2" cy="333.1" r="1.08"/><circle cx="533.1" cy="328.6" r="0.83"/><circle cx="536.9" cy="331.8" r="0.88"/><circle cx="534.3" cy="331.8" r="0.60"/><circle cx="531.9" cy="325.5" r="1.06"/><circle cx="534.4" cy="326.8" r="1.13"/><circle cx="531.1" cy="326.0" r="1.20"/><circle cx="532.0" cy="324.1" r="1.13"/><circle cx="518.5" cy="329.8" r="1.17"/><circle cx="514.8" cy="328.1" r="0.59"/><circle cx="515.3" cy="328.3" r="1.16"/><circle cx="516.9" cy="325.4" r="0.58"/><circle cx="510.9" cy="331.2" r="0.99"/><circle cx="509.6" cy="331.1" r="0.76"/><circle cx="508.2" cy="331.9" r="0.80"/><circle cx="508.9" cy="330.8" r="1.00"/><circle cx="504.7" cy="336.1" r="1.18"/><circle cx="507.1" cy="334.8" r="0.79"/><circle cx="538.1" cy="335.6" r="1.05"/><circle cx="539.7" cy="333.7" r="1.10"/><circle cx="540.5" cy="335.0" r="0.89"/><circle cx="539.3" cy="334.7" r="0.74"/><circle cx="499.4" cy="334.3" r="0.98"/><circle cx="497.7" cy="333.0" r="0.82"/><circle cx="499.1" cy="337.4" r="1.14"/><circle cx="498.4" cy="333.1" r="0.57"/><circle cx="506.9" cy="327.1" r="1.09"/><circle cx="504.3" cy="326.3" r="0.66"/><circle cx="507.2" cy="328.6" r="0.71"/><circle cx="541.2" cy="331.0" r="0.60"/><circle cx="541.7" cy="328.4" r="0.97"/><circle cx="540.1" cy="332.1" r="1.17"/><circle cx="504.8" cy="339.9" r="0.61"/><circle cx="504.6" cy="338.6" r="0.70"/><circle cx="506.3" cy="338.6" r="0.85"/><circle cx="505.5" cy="338.1" r="0.65"/><circle cx="507.5" cy="340.2" r="0.97"/><circle cx="505.9" cy="339.4" r="0.77"/></g>
<rect x="582.8" y="321" width="54.5" height="21.399999999999977" fill="url(#gWater)"/>
<rect x="582.8" y="300.2" width="54.5" height="42.19999999999999" fill="none" stroke="#5e141b" stroke-width="1.6"/>
<rect x="684.8" y="321" width="52.80000000000007" height="21.399999999999977" fill="url(#gWater)"/>
<rect x="684.8" y="300.2" width="52.80000000000007" height="42.19999999999999" fill="none" stroke="#5e141b" stroke-width="1.6"/>
<rect x="803" y="321" width="54" height="21.399999999999977" fill="url(#gBubG)"/>
<rect x="803" y="300.2" width="54" height="42.19999999999999" fill="none" stroke="#5e141b" stroke-width="1.6"/>
<g fill="#c3e4f6" fill-opacity="0.88"><circle cx="815.7" cy="333.3" r="0.94"/><circle cx="819.3" cy="332.2" r="0.91"/><circle cx="818.7" cy="335.0" r="0.90"/><circle cx="816.3" cy="332.6" r="1.11"/><circle cx="817.9" cy="333.8" r="1.15"/><circle cx="817.6" cy="333.2" r="1.06"/><circle cx="814.6" cy="339.0" r="0.94"/><circle cx="815.5" cy="339.3" r="1.06"/><circle cx="827.3" cy="335.7" r="0.64"/><circle cx="827.6" cy="339.4" r="0.83"/><circle cx="825.8" cy="335.3" r="0.88"/><circle cx="825.0" cy="331.0" r="1.15"/><circle cx="826.1" cy="330.0" r="0.94"/><circle cx="824.0" cy="327.9" r="0.76"/><circle cx="822.8" cy="329.4" r="0.62"/><circle cx="823.6" cy="328.3" r="1.19"/><circle cx="824.7" cy="330.5" r="0.86"/><circle cx="836.1" cy="332.4" r="0.74"/><circle cx="837.2" cy="329.4" r="0.58"/><circle cx="834.6" cy="339.5" r="0.74"/><circle cx="820.3" cy="331.8" r="0.80"/><circle cx="824.3" cy="328.5" r="0.62"/><circle cx="825.5" cy="329.6" r="0.73"/><circle cx="821.0" cy="328.4" r="1.16"/><circle cx="821.5" cy="330.4" r="0.75"/><circle cx="823.5" cy="330.9" r="0.85"/><circle cx="820.8" cy="329.2" r="1.01"/><circle cx="821.4" cy="330.0" r="0.59"/><circle cx="839.1" cy="340.7" r="1.04"/><circle cx="839.3" cy="339.1" r="1.06"/><circle cx="841.0" cy="339.6" r="0.64"/><circle cx="830.9" cy="336.1" r="1.00"/><circle cx="831.4" cy="335.5" r="0.77"/><circle cx="831.1" cy="333.6" r="1.11"/><circle cx="831.0" cy="335.9" r="0.97"/><circle cx="852.5" cy="332.2" r="0.75"/><circle cx="849.6" cy="330.0" r="1.11"/><circle cx="822.2" cy="338.3" r="0.74"/><circle cx="823.0" cy="336.7" r="0.78"/><circle cx="821.2" cy="338.4" r="0.82"/><circle cx="823.5" cy="337.4" r="0.55"/><circle cx="825.7" cy="336.8" r="1.19"/><circle cx="819.1" cy="339.0" r="1.15"/><circle cx="819.0" cy="336.0" r="1.13"/><circle cx="819.1" cy="334.4" r="1.18"/><circle cx="817.9" cy="337.0" r="0.57"/><circle cx="817.7" cy="334.9" r="0.68"/><circle cx="818.3" cy="335.5" r="0.58"/><circle cx="816.2" cy="336.5" r="0.88"/><circle cx="819.9" cy="323.7" r="0.77"/><circle cx="817.8" cy="326.9" r="0.86"/><circle cx="844.3" cy="329.4" r="0.71"/><circle cx="843.2" cy="332.5" r="0.63"/><circle cx="845.3" cy="329.1" r="0.92"/><circle cx="841.5" cy="331.1" r="0.71"/><circle cx="842.2" cy="328.8" r="0.58"/><circle cx="842.3" cy="332.0" r="1.11"/><circle cx="846.4" cy="324.4" r="0.61"/><circle cx="841.9" cy="324.8" r="0.75"/><circle cx="842.0" cy="326.3" r="0.93"/><circle cx="842.7" cy="325.4" r="0.76"/><circle cx="844.8" cy="325.9" r="1.02"/><circle cx="822.3" cy="325.8" r="0.90"/><circle cx="824.2" cy="325.0" r="1.13"/><circle cx="826.7" cy="325.9" r="1.04"/><circle cx="823.0" cy="328.2" r="0.82"/><circle cx="808.9" cy="328.2" r="0.83"/><circle cx="810.1" cy="325.5" r="0.79"/><circle cx="809.6" cy="326.3" r="0.72"/><circle cx="806.6" cy="327.8" r="1.08"/><circle cx="805.6" cy="325.3" r="1.07"/><circle cx="806.1" cy="325.8" r="0.92"/><circle cx="811.5" cy="335.0" r="0.89"/><circle cx="809.2" cy="333.0" r="0.79"/><circle cx="812.0" cy="332.7" r="1.10"/><circle cx="810.4" cy="326.4" r="0.88"/><circle cx="807.5" cy="325.3" r="1.04"/><circle cx="808.2" cy="325.7" r="0.76"/><circle cx="832.2" cy="336.6" r="1.01"/><circle cx="834.4" cy="337.4" r="0.94"/><circle cx="835.2" cy="337.1" r="1.18"/><circle cx="846.7" cy="338.1" r="0.89"/><circle cx="844.3" cy="340.2" r="1.13"/><circle cx="847.0" cy="340.5" r="1.04"/><circle cx="848.2" cy="339.3" r="0.84"/><circle cx="846.4" cy="339.2" r="0.72"/><circle cx="827.2" cy="337.5" r="0.72"/><circle cx="826.5" cy="337.4" r="0.92"/><circle cx="826.3" cy="339.7" r="1.11"/><circle cx="824.0" cy="339.2" r="1.01"/><circle cx="808.8" cy="339.9" r="0.70"/><circle cx="809.5" cy="337.8" r="1.17"/><circle cx="848.5" cy="329.4" r="0.99"/><circle cx="850.7" cy="328.7" r="0.66"/><circle cx="848.0" cy="328.2" r="0.61"/><circle cx="847.3" cy="327.4" r="0.72"/><circle cx="851.3" cy="324.7" r="0.83"/><circle cx="848.8" cy="324.7" r="0.93"/><circle cx="851.4" cy="324.2" r="0.90"/><circle cx="850.8" cy="325.3" r="0.98"/><circle cx="809.4" cy="338.4" r="0.99"/><circle cx="810.7" cy="339.8" r="0.98"/><circle cx="838.4" cy="336.4" r="0.99"/><circle cx="837.6" cy="339.5" r="0.87"/><circle cx="823.1" cy="334.0" r="1.02"/><circle cx="824.1" cy="336.9" r="1.15"/><circle cx="822.5" cy="336.1" r="0.91"/><circle cx="825.3" cy="335.0" r="0.97"/><circle cx="822.0" cy="336.4" r="0.67"/><circle cx="820.5" cy="336.2" r="1.01"/><circle cx="811.5" cy="325.8" r="0.72"/><circle cx="809.2" cy="328.8" r="0.58"/><circle cx="810.4" cy="327.0" r="1.05"/><circle cx="810.7" cy="327.9" r="0.81"/><circle cx="808.9" cy="326.4" r="0.78"/><circle cx="812.0" cy="326.5" r="0.73"/><circle cx="840.3" cy="325.9" r="1.19"/><circle cx="842.6" cy="328.4" r="1.11"/><circle cx="841.6" cy="325.5" r="0.66"/><circle cx="842.4" cy="329.4" r="0.79"/><circle cx="840.2" cy="329.5" r="0.84"/><circle cx="825.2" cy="338.9" r="0.89"/><circle cx="824.9" cy="334.9" r="0.98"/><circle cx="826.9" cy="337.7" r="0.96"/><circle cx="827.9" cy="338.9" r="0.70"/><circle cx="826.9" cy="339.1" r="0.68"/><circle cx="826.1" cy="336.6" r="1.08"/><circle cx="853.8" cy="339.0" r="0.64"/><circle cx="851.1" cy="338.0" r="0.58"/><circle cx="849.7" cy="340.4" r="0.60"/><circle cx="846.9" cy="339.0" r="0.76"/><circle cx="847.9" cy="335.2" r="0.60"/><circle cx="853.5" cy="335.4" r="0.68"/><circle cx="848.8" cy="335.9" r="1.00"/><circle cx="848.1" cy="336.6" r="1.06"/><circle cx="845.3" cy="336.9" r="1.01"/><circle cx="846.4" cy="336.5" r="0.59"/><circle cx="844.3" cy="327.9" r="0.81"/><circle cx="848.4" cy="330.0" r="1.02"/><circle cx="820.5" cy="332.1" r="1.07"/><circle cx="823.8" cy="331.4" r="1.11"/><circle cx="823.0" cy="330.0" r="0.56"/><circle cx="822.3" cy="329.4" r="0.96"/><circle cx="825.3" cy="331.5" r="0.84"/><circle cx="825.2" cy="332.4" r="0.81"/><circle cx="817.9" cy="325.9" r="0.67"/><circle cx="817.5" cy="325.2" r="1.14"/><circle cx="815.5" cy="323.3" r="0.74"/><circle cx="851.1" cy="339.8" r="0.57"/><circle cx="852.9" cy="340.0" r="0.83"/><circle cx="855.0" cy="340.6" r="0.62"/><circle cx="841.0" cy="324.9" r="1.14"/><circle cx="840.2" cy="327.7" r="0.86"/><circle cx="839.2" cy="324.2" r="0.75"/><circle cx="813.1" cy="332.4" r="1.03"/><circle cx="813.0" cy="329.1" r="1.15"/><circle cx="810.9" cy="331.5" r="0.70"/><circle cx="812.3" cy="329.0" r="0.73"/><circle cx="813.2" cy="332.3" r="0.94"/><circle cx="841.5" cy="332.3" r="1.08"/><circle cx="842.3" cy="331.5" r="0.98"/><circle cx="839.3" cy="332.0" r="1.07"/><circle cx="811.3" cy="332.9" r="0.77"/><circle cx="808.8" cy="334.5" r="0.81"/><circle cx="809.9" cy="334.0" r="0.92"/><circle cx="809.7" cy="334.5" r="0.97"/><circle cx="809.2" cy="334.6" r="0.65"/><circle cx="836.9" cy="334.6" r="1.10"/><circle cx="835.2" cy="333.6" r="1.14"/><circle cx="835.7" cy="336.2" r="1.06"/><circle cx="826.1" cy="332.8" r="0.62"/><circle cx="829.9" cy="334.0" r="0.62"/><circle cx="823.8" cy="336.0" r="1.12"/><circle cx="824.2" cy="339.2" r="0.84"/><circle cx="812.3" cy="339.4" r="0.85"/><circle cx="811.7" cy="337.4" r="0.77"/><circle cx="811.2" cy="337.9" r="0.91"/><circle cx="811.6" cy="336.5" r="0.97"/><circle cx="810.9" cy="337.3" r="0.78"/><circle cx="853.8" cy="330.7" r="1.04"/><circle cx="854.1" cy="330.4" r="1.12"/><circle cx="840.7" cy="332.3" r="0.96"/><circle cx="838.6" cy="333.2" r="1.19"/><circle cx="839.3" cy="332.0" r="0.57"/><circle cx="841.7" cy="331.6" r="1.13"/><circle cx="842.3" cy="331.8" r="0.88"/><circle cx="809.1" cy="333.2" r="0.77"/><circle cx="809.3" cy="329.7" r="0.74"/><circle cx="810.5" cy="332.5" r="0.82"/><circle cx="841.4" cy="339.7" r="1.16"/><circle cx="834.1" cy="341.0" r="0.69"/><circle cx="841.0" cy="339.9" r="0.57"/><circle cx="838.7" cy="341.1" r="1.09"/><circle cx="843.3" cy="340.6" r="0.90"/><circle cx="842.3" cy="339.8" r="0.68"/><circle cx="843.9" cy="341.3" r="1.14"/><circle cx="844.9" cy="338.7" r="1.08"/><circle cx="842.6" cy="340.6" r="0.99"/><circle cx="828.2" cy="336.8" r="0.99"/><circle cx="832.7" cy="334.8" r="0.71"/><circle cx="812.9" cy="335.4" r="0.64"/><circle cx="813.4" cy="336.6" r="0.87"/><circle cx="815.7" cy="337.5" r="0.85"/><circle cx="810.3" cy="336.3" r="1.11"/><circle cx="814.9" cy="336.4" r="0.79"/><circle cx="812.0" cy="335.8" r="0.60"/><circle cx="811.9" cy="338.2" r="0.72"/><circle cx="812.7" cy="339.4" r="0.93"/><circle cx="813.4" cy="338.1" r="0.87"/><circle cx="813.3" cy="339.2" r="0.93"/><circle cx="818.2" cy="329.3" r="1.01"/><circle cx="820.1" cy="328.9" r="0.98"/><circle cx="852.8" cy="335.8" r="1.09"/><circle cx="851.6" cy="335.6" r="1.17"/><circle cx="853.4" cy="334.3" r="0.81"/><circle cx="851.9" cy="335.4" r="0.71"/><circle cx="852.9" cy="323.3" r="0.62"/><circle cx="852.5" cy="324.8" r="1.10"/><circle cx="851.5" cy="335.7" r="0.91"/><circle cx="853.6" cy="336.8" r="0.66"/><circle cx="854.3" cy="337.1" r="1.00"/><circle cx="851.2" cy="335.8" r="0.56"/><circle cx="852.0" cy="336.0" r="0.96"/><circle cx="825.2" cy="335.8" r="0.90"/><circle cx="820.7" cy="335.2" r="0.80"/><circle cx="822.6" cy="334.7" r="0.64"/><circle cx="814.3" cy="326.5" r="1.16"/><circle cx="817.9" cy="326.0" r="0.71"/><circle cx="811.0" cy="328.6" r="0.87"/><circle cx="813.0" cy="325.0" r="0.56"/><circle cx="811.9" cy="327.9" r="1.06"/><circle cx="811.8" cy="325.5" r="0.90"/><circle cx="847.9" cy="328.1" r="0.59"/><circle cx="845.6" cy="326.3" r="0.92"/><circle cx="846.8" cy="327.3" r="0.81"/><circle cx="835.2" cy="331.1" r="0.84"/><circle cx="834.8" cy="331.6" r="0.76"/><circle cx="832.0" cy="330.2" r="0.76"/><circle cx="832.2" cy="331.6" r="1.19"/><circle cx="852.3" cy="338.1" r="0.67"/><circle cx="850.1" cy="337.8" r="1.20"/><circle cx="850.8" cy="337.3" r="0.83"/><circle cx="850.9" cy="339.0" r="0.77"/><circle cx="841.9" cy="327.6" r="0.60"/><circle cx="841.2" cy="328.1" r="1.06"/><circle cx="846.9" cy="327.8" r="0.80"/><circle cx="845.5" cy="326.8" r="0.69"/><circle cx="840.8" cy="326.1" r="0.83"/><circle cx="845.7" cy="325.4" r="0.78"/><circle cx="822.8" cy="331.3" r="0.62"/><circle cx="819.4" cy="332.4" r="0.55"/><circle cx="820.8" cy="332.4" r="1.13"/><circle cx="821.2" cy="333.7" r="0.68"/><circle cx="807.6" cy="333.7" r="1.09"/><circle cx="809.3" cy="335.4" r="0.99"/><circle cx="810.2" cy="338.0" r="0.80"/><circle cx="807.6" cy="337.0" r="1.09"/><circle cx="833.6" cy="326.4" r="1.19"/><circle cx="834.1" cy="325.5" r="0.68"/><circle cx="833.5" cy="324.1" r="1.17"/><circle cx="834.6" cy="326.4" r="0.97"/><circle cx="842.1" cy="338.6" r="0.86"/><circle cx="838.9" cy="339.9" r="1.09"/><circle cx="841.1" cy="339.8" r="0.93"/><circle cx="842.7" cy="338.0" r="0.80"/><circle cx="808.6" cy="334.4" r="0.61"/><circle cx="810.9" cy="336.1" r="1.11"/><circle cx="809.4" cy="334.4" r="1.19"/><circle cx="809.7" cy="333.3" r="0.68"/><circle cx="809.7" cy="337.3" r="0.64"/><circle cx="808.5" cy="334.3" r="0.78"/><circle cx="843.2" cy="339.5" r="0.83"/><circle cx="842.6" cy="339.9" r="1.12"/><circle cx="843.8" cy="338.9" r="1.14"/><circle cx="842.1" cy="339.6" r="0.67"/><circle cx="844.8" cy="339.5" r="0.80"/><circle cx="846.2" cy="338.5" r="0.74"/><circle cx="846.6" cy="338.2" r="1.18"/><circle cx="846.8" cy="336.9" r="0.75"/><circle cx="847.4" cy="338.5" r="0.86"/><circle cx="847.7" cy="340.1" r="0.79"/><circle cx="815.4" cy="334.9" r="0.96"/><circle cx="817.0" cy="335.5" r="1.06"/><circle cx="818.7" cy="334.2" r="0.93"/><circle cx="817.1" cy="338.1" r="1.00"/><circle cx="818.1" cy="337.7" r="1.19"/><circle cx="814.6" cy="338.9" r="0.86"/><circle cx="814.3" cy="335.6" r="0.89"/><circle cx="816.1" cy="334.7" r="0.90"/><circle cx="816.1" cy="334.8" r="0.87"/><circle cx="832.9" cy="334.3" r="0.94"/><circle cx="832.1" cy="336.7" r="0.74"/><circle cx="837.3" cy="338.1" r="0.86"/><circle cx="836.3" cy="338.9" r="1.00"/><circle cx="836.0" cy="338.8" r="0.62"/><circle cx="836.1" cy="339.0" r="1.02"/><circle cx="838.2" cy="340.5" r="0.68"/><circle cx="835.7" cy="340.3" r="0.62"/><circle cx="808.7" cy="331.4" r="0.91"/><circle cx="810.3" cy="332.9" r="0.91"/><circle cx="808.6" cy="333.0" r="0.86"/><circle cx="808.6" cy="331.1" r="0.72"/><circle cx="809.3" cy="332.6" r="0.79"/><circle cx="810.0" cy="333.0" r="0.99"/><circle cx="837.8" cy="325.3" r="0.61"/><circle cx="837.4" cy="326.0" r="0.70"/><circle cx="834.0" cy="329.0" r="0.76"/><circle cx="838.3" cy="327.3" r="0.98"/><circle cx="819.2" cy="330.9" r="1.00"/><circle cx="816.7" cy="333.5" r="0.72"/><circle cx="817.3" cy="332.0" r="0.80"/><circle cx="820.2" cy="332.7" r="0.97"/><circle cx="819.9" cy="334.6" r="0.88"/><circle cx="851.7" cy="339.9" r="0.92"/><circle cx="853.2" cy="337.8" r="0.63"/><circle cx="852.6" cy="341.2" r="0.60"/><circle cx="850.6" cy="338.5" r="0.63"/><circle cx="824.0" cy="338.9" r="1.12"/><circle cx="822.6" cy="337.6" r="0.60"/><circle cx="822.8" cy="336.3" r="0.85"/><circle cx="824.7" cy="337.5" r="0.72"/><circle cx="840.0" cy="324.3" r="0.89"/><circle cx="837.8" cy="327.1" r="0.62"/><circle cx="839.1" cy="323.0" r="0.70"/><circle cx="828.9" cy="338.4" r="0.81"/><circle cx="828.8" cy="337.2" r="0.98"/><circle cx="828.0" cy="337.9" r="0.81"/><circle cx="834.2" cy="329.9" r="0.94"/><circle cx="833.1" cy="325.9" r="0.89"/><circle cx="833.2" cy="328.2" r="0.59"/><circle cx="835.0" cy="326.2" r="0.61"/><circle cx="836.3" cy="326.9" r="0.96"/><circle cx="833.7" cy="328.0" r="1.20"/><circle cx="812.1" cy="330.1" r="0.56"/><circle cx="814.5" cy="332.6" r="0.59"/><circle cx="810.5" cy="332.2" r="0.56"/><circle cx="829.4" cy="336.5" r="1.18"/><circle cx="833.8" cy="337.8" r="0.67"/><circle cx="832.1" cy="338.0" r="0.90"/><circle cx="830.1" cy="335.4" r="0.96"/><circle cx="811.0" cy="335.2" r="0.99"/><circle cx="811.9" cy="334.6" r="1.01"/><circle cx="808.9" cy="334.7" r="0.85"/><circle cx="810.1" cy="335.0" r="0.75"/><circle cx="810.3" cy="334.2" r="0.86"/><circle cx="810.4" cy="336.4" r="0.97"/><circle cx="841.4" cy="338.2" r="0.98"/><circle cx="842.3" cy="339.9" r="0.81"/><circle cx="840.8" cy="340.6" r="0.98"/><circle cx="848.6" cy="331.0" r="0.83"/><circle cx="852.4" cy="332.0" r="1.04"/><circle cx="848.2" cy="333.1" r="0.73"/><circle cx="850.1" cy="332.4" r="0.68"/><circle cx="848.1" cy="330.4" r="1.02"/><circle cx="809.4" cy="336.7" r="0.95"/><circle cx="810.9" cy="336.8" r="0.91"/><circle cx="811.6" cy="337.0" r="0.92"/><circle cx="809.8" cy="333.7" r="0.61"/><circle cx="812.1" cy="335.5" r="0.88"/><circle cx="811.2" cy="325.5" r="0.82"/><circle cx="812.9" cy="325.7" r="1.00"/><circle cx="810.7" cy="324.6" r="0.96"/><circle cx="811.6" cy="325.7" r="0.91"/><circle cx="835.8" cy="329.5" r="0.61"/><circle cx="835.5" cy="329.1" r="0.69"/><circle cx="835.6" cy="329.3" r="1.14"/><circle cx="823.0" cy="331.1" r="0.55"/><circle cx="820.5" cy="327.1" r="0.71"/><circle cx="823.1" cy="329.9" r="0.93"/><circle cx="822.7" cy="327.9" r="0.74"/><circle cx="821.7" cy="329.8" r="0.68"/><circle cx="820.4" cy="327.4" r="0.85"/><circle cx="817.5" cy="335.9" r="0.68"/><circle cx="819.6" cy="332.3" r="0.98"/><circle cx="821.1" cy="334.6" r="0.81"/><circle cx="817.1" cy="334.4" r="0.94"/><circle cx="818.4" cy="333.5" r="0.92"/><circle cx="821.6" cy="333.3" r="0.77"/><circle cx="814.1" cy="329.1" r="1.13"/><circle cx="814.3" cy="329.4" r="0.84"/><circle cx="813.0" cy="325.0" r="0.66"/><circle cx="817.4" cy="329.5" r="0.79"/><circle cx="815.5" cy="328.6" r="0.76"/><circle cx="814.1" cy="331.0" r="0.56"/><circle cx="817.1" cy="332.1" r="0.70"/><circle cx="813.6" cy="331.3" r="0.66"/><circle cx="838.5" cy="339.3" r="1.10"/><circle cx="844.7" cy="337.4" r="0.58"/><circle cx="841.0" cy="340.4" r="1.04"/><circle cx="839.0" cy="340.6" r="1.07"/><circle cx="821.5" cy="335.4" r="0.63"/><circle cx="821.8" cy="333.7" r="0.76"/><circle cx="815.6" cy="336.2" r="0.75"/><circle cx="821.6" cy="339.7" r="1.04"/><circle cx="819.5" cy="340.7" r="0.78"/><circle cx="820.1" cy="339.7" r="0.86"/><circle cx="819.2" cy="337.9" r="0.75"/><circle cx="821.3" cy="339.5" r="1.04"/><circle cx="820.4" cy="339.5" r="1.07"/><circle cx="816.6" cy="341.0" r="1.05"/><circle cx="817.8" cy="339.6" r="1.15"/><circle cx="817.7" cy="337.3" r="0.81"/><circle cx="819.6" cy="338.7" r="0.69"/><circle cx="810.8" cy="330.0" r="0.97"/><circle cx="808.3" cy="329.4" r="0.71"/><circle cx="812.8" cy="328.8" r="1.03"/><circle cx="811.7" cy="327.7" r="1.10"/><circle cx="845.5" cy="338.0" r="0.64"/><circle cx="843.2" cy="336.4" r="0.55"/><circle cx="845.6" cy="337.8" r="1.17"/><circle cx="829.0" cy="331.6" r="0.55"/><circle cx="826.4" cy="333.9" r="0.58"/><circle cx="828.5" cy="332.3" r="0.74"/><circle cx="835.0" cy="333.9" r="0.68"/><circle cx="839.4" cy="334.3" r="0.60"/><circle cx="836.6" cy="333.0" r="0.86"/><circle cx="835.7" cy="334.4" r="0.79"/><circle cx="837.0" cy="332.4" r="0.88"/><circle cx="836.0" cy="333.7" r="0.90"/><circle cx="838.8" cy="331.9" r="1.08"/><circle cx="837.9" cy="328.9" r="0.83"/><circle cx="838.6" cy="328.9" r="1.15"/><circle cx="840.8" cy="326.8" r="1.00"/><circle cx="835.5" cy="326.9" r="0.72"/><circle cx="838.5" cy="329.9" r="0.67"/><circle cx="825.6" cy="338.3" r="0.72"/><circle cx="824.2" cy="339.6" r="0.99"/><circle cx="838.5" cy="330.8" r="0.95"/><circle cx="840.0" cy="332.6" r="0.55"/><circle cx="838.5" cy="328.7" r="0.68"/><circle cx="837.9" cy="329.3" r="1.18"/><circle cx="841.2" cy="328.8" r="1.12"/></g>
<rect x="895.2" y="319.8" width="39.09999999999991" height="14.2" fill="url(#gSed1)"/>
<rect x="895.2" y="334" width="39.09999999999991" height="8.4" fill="url(#gSed2)"/>
<path d="M895.2,301.2 L902.9,301.2" fill="none" stroke="#5e141b" stroke-width="3" />
<path d="M926.5,301.2 L934.3,301.2" fill="none" stroke="#5e141b" stroke-width="3" />
<path d="M902.4,299.9 L927,299.9" fill="none" stroke="#b08a8e" stroke-width="0.9" />
<path d="M901.4,301.2 L901.4,289.9 Q901.4,287.0 904.4,287.0 L925,287.0 Q928,287.0 928,289.9 L928,301.2" fill="none" stroke="#5e141b" stroke-width="1.5" />
<path d="M903.6,287.4 L925.8,287.4" fill="none" stroke="#5e141b" stroke-width="2.4" />
<path d="M901.4,297 L928,297" fill="none" stroke="#5e141b" stroke-width="1.4" />
<path d="M914.7,287.4 L914.7,297" fill="none" stroke="#5e141b" stroke-width="1.1" />
<path d="M902.4,297 L907.55,288.2 L913.7,297" fill="none" stroke="#5e141b" stroke-width="1.1" />
<path d="M915.7,297 L921.85,288.2 L927,297" fill="none" stroke="#5e141b" stroke-width="1.1" />
<path d="M895.2,300.2 L895.2,342.4 L934.3,342.4 L934.3,300.2" fill="none" stroke="#5e141b" stroke-width="1.6" />
<rect x="934.3" y="319.8" width="38.0" height="14.2" fill="url(#gSed1)"/>
<rect x="934.3" y="334" width="38.0" height="8.4" fill="url(#gSed2)"/>
<path d="M934.3,301.2 L941.7,301.2" fill="none" stroke="#5e141b" stroke-width="3" />
<path d="M964.7,301.2 L972.3,301.2" fill="none" stroke="#5e141b" stroke-width="3" />
<path d="M941.2,299.9 L965.2,299.9" fill="none" stroke="#b08a8e" stroke-width="0.9" />
<path d="M940.2,301.2 L940.2,289.9 Q940.2,287.0 943.2,287.0 L963.2,287.0 Q966.2,287.0 966.2,289.9 L966.2,301.2" fill="none" stroke="#5e141b" stroke-width="1.5" />
<path d="M942.4000000000001,287.4 L964.0,287.4" fill="none" stroke="#5e141b" stroke-width="2.4" />
<path d="M940.2,297 L966.2,297" fill="none" stroke="#5e141b" stroke-width="1.4" />
<path d="M953.2,287.4 L953.2,297" fill="none" stroke="#5e141b" stroke-width="1.1" />
<path d="M941.2,297 L946.2,288.2 L952.2,297" fill="none" stroke="#5e141b" stroke-width="1.1" />
<path d="M954.2,297 L960.2,288.2 L965.2,297" fill="none" stroke="#5e141b" stroke-width="1.1" />
<path d="M934.3,300.2 L934.3,342.4 L972.3,342.4 L972.3,300.2" fill="none" stroke="#5e141b" stroke-width="1.6" />
<path d="M934.3,300.2 L934.3,342.4" fill="none" stroke="#5e141b" stroke-width="2.2" />
<rect x="1010.4" y="321" width="54.60000000000002" height="21.399999999999977" fill="url(#gWater)"/>
<rect x="1010.4" y="300.2" width="54.60000000000002" height="42.19999999999999" fill="none" stroke="#5e141b" stroke-width="1.6"/>
<rect x="275" y="490.5" width="55.19999999999999" height="20.5" fill="url(#gWater)"/>
<rect x="275" y="469" width="55.19999999999999" height="42" fill="none" stroke="#5e141b" stroke-width="1.6"/>
<rect x="556" y="487.6" width="55.200000000000045" height="21.799999999999955" fill="url(#gFloat)"/>
<rect x="556" y="467.6" width="55.200000000000045" height="41.799999999999955" fill="none" stroke="#5e141b" stroke-width="1.6"/>
<g fill="#dff1fa" fill-opacity="0.88"><circle cx="571.2" cy="492.9" r="0.91"/><circle cx="569.8" cy="496.5" r="0.59"/><circle cx="569.4" cy="492.6" r="1.06"/><circle cx="561.2" cy="502.7" r="0.96"/><circle cx="560.4" cy="499.1" r="1.12"/><circle cx="562.6" cy="502.6" r="0.99"/><circle cx="559.7" cy="501.6" r="0.86"/><circle cx="563.9" cy="506.4" r="0.74"/><circle cx="563.4" cy="505.4" r="1.05"/><circle cx="564.4" cy="507.8" r="0.74"/><circle cx="562.7" cy="506.8" r="0.72"/><circle cx="564.0" cy="506.0" r="0.85"/><circle cx="565.8" cy="506.5" r="0.97"/><circle cx="562.5" cy="507.4" r="1.04"/><circle cx="561.8" cy="507.7" r="1.14"/><circle cx="563.2" cy="506.4" r="0.70"/><circle cx="562.9" cy="504.4" r="0.70"/><circle cx="562.2" cy="506.9" r="0.85"/><circle cx="590.6" cy="503.9" r="0.71"/><circle cx="588.8" cy="504.1" r="0.92"/><circle cx="588.4" cy="505.7" r="0.79"/><circle cx="600.2" cy="507.4" r="0.69"/><circle cx="599.0" cy="507.7" r="0.66"/><circle cx="598.1" cy="506.9" r="0.58"/><circle cx="597.3" cy="507.6" r="1.20"/><circle cx="583.0" cy="496.4" r="0.97"/><circle cx="581.7" cy="495.4" r="0.67"/><circle cx="560.2" cy="495.7" r="0.76"/><circle cx="562.4" cy="494.5" r="0.63"/><circle cx="590.5" cy="505.5" r="0.69"/><circle cx="593.6" cy="503.5" r="1.15"/><circle cx="576.6" cy="500.4" r="0.98"/><circle cx="575.3" cy="501.0" r="1.15"/><circle cx="576.4" cy="501.8" r="1.18"/><circle cx="578.1" cy="501.4" r="0.58"/><circle cx="589.5" cy="491.1" r="1.15"/><circle cx="591.9" cy="492.1" r="1.15"/><circle cx="595.1" cy="492.2" r="0.63"/><circle cx="593.3" cy="490.9" r="1.12"/><circle cx="569.5" cy="500.7" r="0.89"/><circle cx="569.7" cy="502.2" r="0.94"/><circle cx="566.1" cy="502.3" r="0.95"/><circle cx="570.3" cy="503.1" r="1.05"/><circle cx="569.1" cy="502.1" r="1.09"/><circle cx="569.6" cy="501.7" r="0.90"/><circle cx="578.2" cy="501.5" r="0.81"/><circle cx="581.1" cy="505.4" r="1.07"/><circle cx="573.8" cy="507.9" r="0.82"/><circle cx="591.6" cy="496.1" r="0.86"/><circle cx="595.5" cy="499.5" r="0.79"/><circle cx="595.3" cy="500.1" r="0.76"/><circle cx="589.5" cy="498.7" r="1.05"/><circle cx="590.9" cy="499.6" r="0.99"/><circle cx="587.6" cy="499.0" r="1.14"/><circle cx="585.2" cy="500.3" r="0.75"/><circle cx="590.5" cy="498.0" r="0.95"/><circle cx="575.2" cy="500.8" r="0.95"/><circle cx="576.2" cy="505.0" r="0.68"/><circle cx="573.9" cy="496.2" r="1.04"/><circle cx="576.8" cy="497.8" r="1.08"/><circle cx="592.4" cy="506.9" r="1.06"/><circle cx="591.7" cy="506.7" r="0.69"/><circle cx="589.7" cy="506.7" r="0.90"/><circle cx="589.8" cy="504.9" r="1.07"/><circle cx="587.3" cy="505.0" r="0.75"/><circle cx="589.5" cy="505.8" r="0.71"/><circle cx="592.9" cy="504.3" r="0.91"/><circle cx="599.9" cy="498.1" r="1.18"/><circle cx="603.1" cy="497.5" r="0.94"/><circle cx="573.5" cy="491.4" r="0.94"/><circle cx="578.0" cy="493.7" r="0.59"/><circle cx="575.0" cy="492.8" r="0.81"/><circle cx="587.6" cy="502.9" r="0.65"/><circle cx="588.1" cy="501.5" r="0.76"/><circle cx="588.1" cy="501.6" r="1.20"/><circle cx="586.9" cy="504.0" r="1.01"/><circle cx="587.4" cy="499.4" r="1.17"/><circle cx="589.6" cy="499.9" r="0.91"/><circle cx="592.2" cy="503.5" r="0.74"/><circle cx="591.6" cy="503.0" r="0.66"/><circle cx="594.6" cy="502.0" r="0.90"/><circle cx="592.6" cy="504.3" r="0.66"/><circle cx="597.3" cy="504.4" r="0.73"/><circle cx="592.5" cy="502.0" r="1.06"/><circle cx="561.4" cy="497.1" r="1.20"/><circle cx="559.3" cy="492.0" r="1.16"/><circle cx="561.3" cy="493.3" r="0.62"/><circle cx="559.5" cy="496.6" r="1.13"/><circle cx="572.3" cy="503.8" r="1.09"/><circle cx="572.1" cy="504.7" r="0.70"/><circle cx="571.6" cy="505.8" r="1.18"/><circle cx="573.3" cy="505.5" r="0.86"/><circle cx="603.8" cy="506.4" r="0.94"/><circle cx="605.8" cy="507.3" r="0.60"/><circle cx="594.1" cy="506.0" r="1.09"/><circle cx="597.7" cy="505.7" r="0.70"/><circle cx="575.3" cy="507.0" r="0.69"/><circle cx="575.4" cy="507.8" r="0.87"/><circle cx="578.0" cy="507.9" r="0.88"/><circle cx="575.0" cy="506.9" r="0.68"/><circle cx="575.8" cy="506.2" r="0.69"/><circle cx="574.5" cy="507.5" r="1.18"/><circle cx="605.9" cy="507.4" r="0.61"/><circle cx="603.8" cy="507.4" r="0.99"/><circle cx="604.2" cy="505.0" r="0.75"/><circle cx="608.1" cy="505.5" r="0.95"/><circle cx="604.4" cy="503.5" r="0.71"/><circle cx="606.1" cy="508.2" r="1.05"/><circle cx="572.6" cy="494.8" r="0.74"/><circle cx="567.2" cy="491.8" r="1.14"/><circle cx="563.3" cy="502.7" r="0.99"/><circle cx="563.0" cy="506.8" r="0.96"/><circle cx="595.7" cy="504.6" r="1.17"/><circle cx="597.5" cy="503.2" r="1.19"/><circle cx="598.4" cy="504.8" r="1.01"/><circle cx="592.4" cy="503.8" r="0.94"/><circle cx="590.5" cy="505.0" r="0.83"/><circle cx="591.5" cy="505.2" r="1.15"/><circle cx="567.3" cy="496.6" r="0.96"/><circle cx="567.4" cy="498.0" r="1.01"/><circle cx="569.3" cy="496.7" r="0.78"/><circle cx="569.4" cy="496.8" r="0.57"/><circle cx="568.3" cy="504.7" r="0.75"/><circle cx="568.5" cy="503.4" r="0.64"/><circle cx="567.5" cy="505.7" r="0.78"/><circle cx="568.0" cy="504.9" r="0.57"/><circle cx="569.3" cy="502.6" r="0.82"/><circle cx="569.8" cy="505.4" r="0.91"/><circle cx="584.9" cy="494.2" r="0.98"/><circle cx="584.2" cy="494.6" r="0.93"/><circle cx="584.4" cy="493.5" r="0.94"/><circle cx="585.3" cy="496.1" r="0.90"/><circle cx="583.3" cy="495.5" r="1.15"/><circle cx="586.3" cy="492.4" r="0.92"/><circle cx="563.1" cy="494.3" r="0.68"/><circle cx="562.2" cy="494.9" r="0.64"/><circle cx="600.0" cy="499.6" r="1.09"/><circle cx="600.7" cy="500.6" r="0.96"/><circle cx="573.9" cy="504.1" r="1.04"/><circle cx="574.6" cy="505.9" r="1.15"/><circle cx="575.2" cy="506.0" r="0.94"/><circle cx="575.1" cy="505.0" r="0.68"/><circle cx="572.5" cy="503.6" r="1.06"/><circle cx="597.6" cy="491.9" r="0.89"/><circle cx="597.5" cy="493.0" r="0.77"/><circle cx="560.6" cy="491.9" r="0.98"/><circle cx="563.9" cy="493.3" r="0.93"/><circle cx="589.9" cy="499.4" r="0.83"/><circle cx="589.2" cy="502.1" r="1.04"/><circle cx="580.7" cy="501.0" r="1.20"/><circle cx="584.6" cy="499.8" r="0.91"/><circle cx="586.2" cy="499.7" r="0.93"/><circle cx="583.0" cy="499.1" r="1.00"/><circle cx="585.8" cy="499.6" r="0.65"/><circle cx="588.0" cy="499.2" r="1.01"/><circle cx="584.1" cy="503.6" r="1.07"/><circle cx="583.9" cy="503.4" r="0.66"/><circle cx="589.6" cy="503.6" r="0.57"/><circle cx="561.3" cy="508.0" r="0.79"/><circle cx="558.8" cy="504.4" r="0.96"/><circle cx="561.4" cy="505.0" r="0.88"/><circle cx="559.5" cy="505.7" r="0.67"/><circle cx="558.4" cy="506.1" r="0.66"/><circle cx="559.6" cy="505.0" r="0.69"/><circle cx="564.3" cy="496.1" r="1.16"/><circle cx="563.6" cy="497.6" r="0.81"/><circle cx="567.3" cy="497.4" r="0.69"/><circle cx="567.2" cy="496.9" r="0.63"/><circle cx="563.4" cy="497.3" r="1.04"/><circle cx="604.4" cy="495.0" r="1.07"/><circle cx="601.5" cy="497.3" r="0.88"/><circle cx="604.0" cy="497.0" r="1.19"/><circle cx="601.6" cy="497.0" r="1.11"/><circle cx="603.2" cy="497.4" r="0.63"/><circle cx="583.3" cy="498.2" r="0.70"/><circle cx="581.8" cy="499.3" r="0.84"/><circle cx="583.1" cy="499.3" r="0.87"/><circle cx="602.6" cy="505.3" r="0.73"/><circle cx="606.1" cy="505.9" r="0.72"/><circle cx="604.8" cy="503.3" r="0.98"/><circle cx="607.9" cy="504.6" r="1.06"/><circle cx="604.4" cy="504.8" r="1.16"/><circle cx="606.9" cy="506.4" r="1.07"/><circle cx="604.6" cy="507.1" r="1.00"/><circle cx="608.0" cy="505.3" r="1.10"/><circle cx="584.6" cy="503.1" r="1.05"/><circle cx="583.4" cy="504.4" r="1.10"/><circle cx="580.6" cy="501.9" r="0.59"/><circle cx="563.0" cy="500.6" r="0.59"/><circle cx="561.8" cy="497.8" r="0.55"/><circle cx="563.6" cy="500.5" r="0.69"/><circle cx="559.5" cy="499.4" r="1.04"/><circle cx="562.2" cy="498.1" r="1.00"/><circle cx="559.3" cy="498.3" r="0.59"/><circle cx="563.6" cy="498.6" r="0.59"/><circle cx="560.3" cy="498.5" r="1.01"/><circle cx="562.7" cy="499.7" r="0.79"/><circle cx="606.6" cy="501.9" r="1.09"/><circle cx="604.7" cy="502.3" r="1.08"/><circle cx="602.7" cy="491.6" r="1.15"/><circle cx="602.3" cy="493.0" r="1.17"/><circle cx="601.1" cy="493.8" r="0.71"/><circle cx="577.1" cy="504.5" r="1.16"/><circle cx="578.0" cy="502.2" r="0.80"/><circle cx="585.3" cy="501.6" r="1.03"/><circle cx="586.0" cy="501.5" r="0.88"/><circle cx="584.8" cy="500.1" r="0.55"/><circle cx="565.3" cy="495.2" r="0.81"/><circle cx="564.4" cy="494.8" r="0.87"/><circle cx="566.3" cy="494.4" r="1.01"/><circle cx="566.8" cy="498.5" r="1.18"/><circle cx="566.5" cy="497.1" r="0.77"/><circle cx="566.2" cy="495.4" r="1.02"/><circle cx="582.9" cy="498.2" r="0.83"/><circle cx="582.0" cy="498.6" r="1.19"/><circle cx="584.8" cy="499.6" r="0.60"/><circle cx="581.8" cy="492.7" r="1.15"/><circle cx="579.9" cy="495.5" r="1.18"/><circle cx="583.1" cy="496.2" r="0.90"/><circle cx="580.0" cy="494.5" r="0.65"/><circle cx="585.3" cy="494.1" r="0.71"/><circle cx="583.1" cy="493.7" r="1.01"/><circle cx="582.6" cy="494.3" r="0.77"/><circle cx="572.7" cy="502.7" r="0.67"/><circle cx="569.7" cy="501.4" r="0.87"/><circle cx="569.4" cy="504.0" r="1.05"/><circle cx="569.9" cy="502.0" r="1.02"/><circle cx="568.2" cy="502.3" r="0.78"/><circle cx="568.1" cy="503.0" r="0.80"/><circle cx="566.5" cy="502.8" r="0.65"/><circle cx="562.0" cy="503.8" r="0.91"/><circle cx="566.6" cy="502.6" r="0.96"/><circle cx="565.3" cy="505.8" r="0.83"/><circle cx="564.4" cy="504.5" r="1.09"/><circle cx="565.2" cy="503.5" r="1.15"/><circle cx="609.1" cy="503.6" r="1.12"/><circle cx="605.7" cy="504.0" r="1.03"/><circle cx="605.7" cy="501.8" r="0.66"/><circle cx="608.0" cy="504.9" r="0.72"/><circle cx="606.1" cy="505.1" r="0.95"/><circle cx="581.7" cy="496.3" r="0.94"/><circle cx="578.1" cy="496.5" r="1.18"/><circle cx="578.6" cy="496.0" r="0.96"/><circle cx="576.9" cy="494.0" r="0.99"/><circle cx="579.2" cy="495.5" r="1.10"/><circle cx="581.9" cy="494.0" r="0.60"/><circle cx="592.4" cy="499.9" r="0.98"/><circle cx="591.6" cy="498.3" r="0.80"/><circle cx="590.2" cy="500.5" r="0.77"/><circle cx="591.8" cy="502.5" r="0.79"/><circle cx="593.6" cy="500.0" r="0.69"/><circle cx="591.1" cy="499.8" r="1.19"/><circle cx="603.1" cy="497.9" r="0.81"/><circle cx="607.4" cy="495.9" r="1.06"/><circle cx="605.2" cy="495.3" r="0.72"/><circle cx="606.2" cy="497.7" r="0.62"/><circle cx="604.3" cy="498.0" r="0.72"/><circle cx="588.9" cy="492.8" r="0.94"/><circle cx="590.3" cy="493.9" r="1.02"/><circle cx="588.9" cy="492.9" r="0.88"/><circle cx="591.7" cy="495.3" r="0.99"/><circle cx="581.1" cy="503.9" r="0.64"/><circle cx="582.5" cy="502.2" r="0.96"/><circle cx="584.7" cy="500.8" r="0.92"/><circle cx="584.8" cy="502.1" r="1.20"/><circle cx="579.5" cy="504.3" r="1.07"/><circle cx="579.6" cy="500.8" r="0.88"/><circle cx="572.4" cy="496.6" r="0.74"/><circle cx="568.1" cy="497.0" r="1.03"/><circle cx="570.1" cy="494.2" r="0.64"/><circle cx="570.0" cy="493.8" r="0.92"/><circle cx="570.1" cy="493.3" r="0.99"/><circle cx="568.2" cy="495.4" r="0.85"/><circle cx="563.4" cy="504.0" r="0.98"/><circle cx="566.9" cy="505.9" r="1.19"/><circle cx="565.3" cy="503.9" r="1.09"/><circle cx="565.1" cy="507.5" r="0.97"/><circle cx="584.7" cy="504.4" r="1.11"/><circle cx="586.5" cy="502.9" r="0.58"/><circle cx="587.0" cy="505.9" r="0.66"/><circle cx="581.8" cy="502.0" r="0.94"/><circle cx="586.1" cy="504.1" r="0.65"/></g>
<rect x="649.6" y="469.2" width="52.6" height="40.2" fill="url(#gStore)"/>
<rect x="649.6" y="499.6" width="52.6" height="9.8" fill="#555a58"/>
<rect x="649.6" y="469.2" width="52.6" height="40.2" fill="none" stroke="#5e141b" stroke-width="1.6"/>
<text x="155.9" y="360.6" font-size="11.3" fill="#1d1616" font-weight="700" text-anchor="middle" letter-spacing="1.2" >格栅</text>
<text x="208.8" y="360.6" font-size="11.3" fill="#1d1616" font-weight="700" text-anchor="middle" letter-spacing="1.2" >集水池</text>
<text x="303.5" y="360.6" font-size="11.3" fill="#1d1616" font-weight="700" text-anchor="middle" letter-spacing="0.6" >超微过滤机</text>
<text x="411" y="360.6" font-size="11.3" fill="#1d1616" font-weight="700" text-anchor="middle" letter-spacing="1.0" >吸附池<tspan font-size="15.5" font-weight="400" dy="1.2">|</tspan><tspan dy="-1.2">隔油初沉池</tspan></text>
<text x="517.2" y="360.6" font-size="11.3" fill="#1d1616" font-weight="700" text-anchor="middle" letter-spacing="1.1" >曝气调节池</text>
<text x="610.8" y="360.6" font-size="11.3" fill="#1d1616" font-weight="700" text-anchor="middle" letter-spacing="1.7" >厌氧池</text>
<text x="710" y="359.1" font-size="11.3" fill="#1d1616" font-weight="700" text-anchor="middle" letter-spacing="0.5" >A池</text>
<text x="826.5" y="360.6" font-size="11.3" fill="#1d1616" font-weight="700" text-anchor="middle" letter-spacing="0.5" >O池</text>
<text x="934" y="360.6" font-size="11.3" fill="#1d1616" font-weight="700" text-anchor="middle" letter-spacing="1.45" >二沉池<tspan font-size="15.5" font-weight="400" dy="1.2">|</tspan><tspan dy="-1.2">三沉池</tspan></text>
<text x="1037.8" y="360.6" font-size="11.3" fill="#1d1616" font-weight="700" text-anchor="middle" letter-spacing="1.8" >消毒池</text>
<text x="303" y="530.6" font-size="11.3" fill="#1d1616" font-weight="700" text-anchor="middle" letter-spacing="1.6" >事故池</text>
<text x="162.3" y="529.6" font-size="11.3" fill="#1d1616" font-weight="700" text-anchor="middle" letter-spacing="0.4" >废渣外运</text>
<text x="581.8" y="528.6" font-size="11.3" fill="#1d1616" font-weight="700" text-anchor="middle" letter-spacing="1.2" >气浮机</text>
<text x="675" y="528.8" font-size="11.3" fill="#1d1616" font-weight="700" text-anchor="middle" letter-spacing="0.7" >污泥消解存储池</text>
<text x="795" y="529" font-size="11.3" fill="#1d1616" font-weight="700" text-anchor="middle" letter-spacing="1.15" >叠螺污泥脱水机</text>
<text x="934" y="529" font-size="11.3" fill="#1d1616" font-weight="700" text-anchor="middle" letter-spacing="0.5" >脱水污泥外运</text>
<text x="143.2" y="154.8" font-size="11.2" fill="#1d1616" font-weight="700" text-anchor="middle" letter-spacing="0.5" >备用</text>
<text x="201.2" y="154.8" font-size="11.2" fill="#1d1616" font-weight="700" text-anchor="middle" letter-spacing="0.3" >风 机</text>
<text x="262.5" y="154.8" font-size="11.2" fill="#1d1616" font-weight="700" text-anchor="middle" letter-spacing="0.6" >泵</text>
<text x="294.2" y="154.8" font-size="11.2" fill="#1d1616" font-weight="700" text-anchor="middle" letter-spacing="0.5" >备用</text>
<text x="358.3" y="154.8" font-size="10.2" fill="#1d1616" font-weight="400" text-anchor="start" letter-spacing="1.45" stroke="#1d1616" stroke-width="0.32">PAC/PAM</text>
<text x="435.5" y="154.8" font-size="11.2" fill="#1d1616" font-weight="700" text-anchor="middle" letter-spacing="0.6" >应急</text>
<text x="556.5" y="154.8" font-size="11.2" fill="#1d1616" font-weight="700" text-anchor="middle" letter-spacing="0.6" >泵</text>
<text x="588.2" y="154.8" font-size="11.2" fill="#1d1616" font-weight="700" text-anchor="middle" letter-spacing="0.5" >备用</text>
<text x="947.5" y="154.8" font-size="10.8" fill="#1d1616" font-weight="700" text-anchor="middle" letter-spacing="0.45" >除磷剂/PAM</text>
<text x="1020.5" y="154.8" font-size="11.2" fill="#1d1616" font-weight="700" text-anchor="middle" letter-spacing="0.1" >次氯酸钠</text>
<text x="1085" y="154.8" font-size="11.2" fill="#1d1616" font-weight="700" text-anchor="middle" letter-spacing="0.0" >应急阀门</text>
<text x="1138" y="154.8" font-size="11.2" fill="#1d1616" font-weight="700" text-anchor="middle" letter-spacing="0.8" >在线监测</text>
<path d="M163.6,361 L163.6,464.5" fill="none" stroke="#5e141b" stroke-width="1.65" stroke-dasharray="3.0 1.6" />
<polygon points="163.6,471 159.6,464 167.6,464" fill="#5e141b"/>
<path d="M306.5,361 L306.5,434.0 L171,434.0" fill="none" stroke="#5e141b" stroke-width="1.65" stroke-dasharray="3.0 1.6" />
<polygon points="164.5,434.0 171.5,430.0 171.5,438.0" fill="#5e141b"/>
<path d="M220.6,365.5 L220.6,410.6 L279.8,410.6 L279.8,462" fill="none" stroke="#0c4a78" stroke-width="2.3" />
<polygon points="279.8,469 275.3,460.5 284.3,460.5" fill="#0c4a78"/>
<path d="M273.8,435.2 L273.8,434.0 A6.0,6.0 0 0 1 285.8,434.0 L285.8,435.2 Z" fill="#fff"/>
<path d="M274.0,434.4 L274.0,434.0 A5.8,5.8 0 0 1 285.6,434.0 L285.6,434.4" fill="none" stroke="#5e141b" stroke-width="1.7"/>
<path d="M320.2,468.5 L320.2,373" fill="none" stroke="#0c4a78" stroke-width="2.3" />
<polygon points="320.2,365.5 315.7,374.0 324.7,374.0" fill="#0c4a78"/>
<path d="M382.8,376 L382.8,411.2 L918.3,411.2 L918.3,361" fill="none" stroke="#5e141b" stroke-width="1.65" stroke-dasharray="3.0 1.6" />
<polygon points="382.8,370 378.8,377 386.8,377" fill="#5e141b"/>
<path d="M604,411.2 L604,376.5" fill="none" stroke="#5e141b" stroke-width="1.65" stroke-dasharray="3.0 1.6" />
<polygon points="604,369.8 600.0,377.0 608.0,377.0" fill="#5e141b"/>
<path d="M674.6,411.2 L674.6,461" fill="none" stroke="#5e141b" stroke-width="1.65" stroke-dasharray="3.0 1.6" />
<polygon points="674.6,467.5 670.6,460.5 678.6,460.5" fill="#5e141b"/>
<path d="M446.5,368 L446.5,434.0 L661.4,434.0 L661.4,461" fill="none" stroke="#5e141b" stroke-width="1.65" stroke-dasharray="3.0 1.6" />
<polygon points="661.4,467.5 657.4,460.5 665.4,460.5" fill="#5e141b"/>
<path d="M963.7,361 L963.7,434.0 L687.4,434.0 L687.4,461" fill="none" stroke="#5e141b" stroke-width="1.65" stroke-dasharray="3.0 1.6" />
<polygon points="687.4,467.5 683.4,460.5 691.4,460.5" fill="#5e141b"/>
<path d="M832.3,362.5 L832.3,397.8 L710.8,397.8 L710.8,369" fill="none" stroke="#5e141b" stroke-width="1.65" stroke-dasharray="3.0 1.6" />
<polygon points="710.8,362.5 706.8,369.5 714.8,369.5" fill="#5e141b"/>
<path d="M498.9,374 L498.9,555 L813.4,555 L813.4,532" fill="none" stroke="#1896e6" stroke-width="1.9" stroke-dasharray="2.7 1.6" />
<polygon points="498.9,367 494.9,374 502.9,374" fill="#1896e6"/>
<path d="M562.9,327 L562.9,458" fill="none" stroke="#2b78a6" stroke-width="1.5" stroke-dasharray="2.6 1.7" />
<polygon points="562.9,465.5 558.9,458.5 566.9,458.5" fill="#14557f"/>
<path d="M595.1,467.5 L595.1,375" fill="none" stroke="#2b78a6" stroke-width="1.5" stroke-dasharray="2.6 1.7" />
<polygon points="595.1,368.2 591.1,375.2 599.1,375.2" fill="#14557f"/>
<path d="M440.5,412.4 L440.5,411.2 A6.0,6.0 0 0 1 452.5,411.2 L452.5,412.4 Z" fill="#fff"/>
<path d="M440.7,411.59999999999997 L440.7,411.2 A5.8,5.8 0 0 1 452.3,411.2 L452.3,411.59999999999997" fill="none" stroke="#5e141b" stroke-width="1.7"/>
<path d="M492.9,412.4 L492.9,411.2 A6.0,6.0 0 0 1 504.9,411.2 L504.9,412.4 Z" fill="#fff"/>
<path d="M493.09999999999997,411.59999999999997 L493.09999999999997,411.2 A5.8,5.8 0 0 1 504.7,411.2 L504.7,411.59999999999997" fill="none" stroke="#5e141b" stroke-width="1.7"/>
<path d="M556.9,412.4 L556.9,411.2 A6.0,6.0 0 0 1 568.9,411.2 L568.9,412.4 Z" fill="#fff"/>
<path d="M557.1,411.59999999999997 L557.1,411.2 A5.8,5.8 0 0 1 568.6999999999999,411.2 L568.6999999999999,411.59999999999997" fill="none" stroke="#5e141b" stroke-width="1.7"/>
<path d="M589.1,412.4 L589.1,411.2 A6.0,6.0 0 0 1 601.1,411.2 L601.1,412.4 Z" fill="#fff"/>
<path d="M589.3000000000001,411.59999999999997 L589.3000000000001,411.2 A5.8,5.8 0 0 1 600.9,411.2 L600.9,411.59999999999997" fill="none" stroke="#5e141b" stroke-width="1.7"/>
<path d="M492.9,435.2 L492.9,434.0 A6.0,6.0 0 0 1 504.9,434.0 L504.9,435.2 Z" fill="#fff"/>
<path d="M493.09999999999997,434.4 L493.09999999999997,434.0 A5.8,5.8 0 0 1 504.7,434.0 L504.7,434.4" fill="none" stroke="#5e141b" stroke-width="1.7"/>
<path d="M556.9,435.2 L556.9,434.0 A6.0,6.0 0 0 1 568.9,434.0 L568.9,435.2 Z" fill="#fff"/>
<path d="M557.1,434.4 L557.1,434.0 A5.8,5.8 0 0 1 568.6999999999999,434.0 L568.6999999999999,434.4" fill="none" stroke="#5e141b" stroke-width="1.7"/>
<path d="M589.1,435.2 L589.1,434.0 A6.0,6.0 0 0 1 601.1,434.0 L601.1,435.2 Z" fill="#fff"/>
<path d="M589.3000000000001,434.4 L589.3000000000001,434.0 A5.8,5.8 0 0 1 600.9,434.0 L600.9,434.4" fill="none" stroke="#5e141b" stroke-width="1.7"/>
<path d="M611.5,493.3 L642,493.3" fill="none" stroke="#5e141b" stroke-width="1.65" stroke-dasharray="3.0 1.6" />
<polygon points="648.5,493.3 641.5,489.3 641.5,497.3" fill="#5e141b"/>
<path d="M702.5,493.3 L759.5,493.3" fill="none" stroke="#5e141b" stroke-width="1.65" stroke-dasharray="3.0 1.6" />
<polygon points="766,493.3 759,489.3 759,497.3" fill="#5e141b"/>
<path d="M824,493.3 L889,493.3" fill="none" stroke="#5e141b" stroke-width="1.65" stroke-dasharray="3.0 1.6" />
<polygon points="895.6,493.3 888.6,489.3 888.6,497.3" fill="#5e141b"/>
<text x="412.6" y="395.6" font-size="10.8" fill="#5e141b" font-weight="700" text-anchor="middle" letter-spacing="1.0" >剩余污泥</text>
<text x="464" y="389.6" font-size="10.8" fill="#5e141b" font-weight="700" text-anchor="middle" letter-spacing="0" >污</text>
<text x="464" y="401.4" font-size="10.8" fill="#5e141b" font-weight="700" text-anchor="middle" letter-spacing="0" >泥</text>
<text x="637" y="398" font-size="10.8" fill="#5e141b" font-weight="700" text-anchor="middle" letter-spacing="1.5" >污泥回流</text>
<text x="769.6" y="392.4" font-size="10.8" fill="#5e141b" font-weight="700" text-anchor="middle" letter-spacing="1.7" >硝化液回流</text>
<text x="909.5" y="387.6" font-size="10.8" fill="#5e141b" font-weight="700" text-anchor="middle" letter-spacing="0" >污</text>
<text x="909.5" y="402" font-size="10.8" fill="#5e141b" font-weight="700" text-anchor="middle" letter-spacing="0" >泥</text>
<text x="956.8" y="383" font-size="10.8" fill="#5e141b" font-weight="700" text-anchor="middle" letter-spacing="0" >污</text>
<text x="956.8" y="402" font-size="10.8" fill="#5e141b" font-weight="700" text-anchor="middle" letter-spacing="0" >泥</text>
<text x="630.5" y="484.6" font-size="10.8" fill="#5e141b" font-weight="700" text-anchor="middle" letter-spacing="1.2" >污泥</text>
<text x="733" y="483.8" font-size="10.8" fill="#5e141b" font-weight="700" text-anchor="middle" letter-spacing="1.2" >污泥</text>
<text x="850.5" y="483.2" font-size="10.8" fill="#5e141b" font-weight="700" text-anchor="middle" letter-spacing="1.2" >污泥</text>
<text x="513.4" y="520.0" font-size="11" fill="#1896e6" font-weight="500" text-anchor="middle" letter-spacing="0" >压</text>
<text x="513.4" y="532.6" font-size="11" fill="#1896e6" font-weight="500" text-anchor="middle" letter-spacing="0" >滤</text>
<text x="513.4" y="545.2" font-size="11" fill="#1896e6" font-weight="500" text-anchor="middle" letter-spacing="0" >液</text>
<g transform="translate(109.2,0)"><rect x="0.2" y="184" width="21" height="5.7" rx="2" fill="#df3f6b"/><rect x="1.5" y="185" width="18" height="1.1" fill="#fff" opacity="0.18"/><rect x="20.5" y="185" width="9.5" height="3.8" fill="#b72c55"/><rect x="23" y="184.4" width="1.6" height="5" fill="#df3f6b"/><rect x="26" y="184.6" width="1.4" height="4.6" fill="#df3f6b"/><rect x="30.2" y="161.4" width="6" height="21" rx="2" fill="#df3f6b"/><rect x="32.6" y="163" width="1.3" height="17" fill="#fff" opacity="0.3"/><rect x="30.2" y="164" width="1.2" height="16" fill="#b72c55" opacity="0.6"/><path d="M28.4,180.4 L37.4,180.4 L37.4,179 L39,178 L46,178 L50.6,181.6 L50.8,194 L28.4,194 Z" fill="#df3f6b"/><rect x="28.4" y="191.4" width="22.4" height="2.6" fill="#b72c55"/><path d="M38,180 L39.6,178.8 L45.8,178.8 L49.8,182 L50,190.6 L38,190.6 Z" fill="#d9a3b3"/><path d="M38.4,180.2 L44.5,179.4 L44.5,183 L41,185.4 L38.4,185.4 Z" fill="#fff" opacity="0.75"/><circle cx="46" cy="186.4" r="3.3" fill="#fff" opacity="0.4"/><rect x="38" y="188.2" width="4.4" height="1.6" fill="#fff" opacity="0.8"/><rect x="30.5" y="186" width="6" height="0.9" fill="#b72c55" opacity="0.7"/></g>
<g transform="translate(167.8,0)"><rect x="0.2" y="184" width="21" height="5.7" rx="2" fill="#4b5fa3"/><rect x="1.5" y="185" width="18" height="1.1" fill="#fff" opacity="0.18"/><rect x="20.5" y="185" width="9.5" height="3.8" fill="#33437e"/><rect x="23" y="184.4" width="1.6" height="5" fill="#4b5fa3"/><rect x="26" y="184.6" width="1.4" height="4.6" fill="#4b5fa3"/><rect x="30.2" y="161.4" width="6" height="21" rx="2" fill="#4b5fa3"/><rect x="32.6" y="163" width="1.3" height="17" fill="#fff" opacity="0.3"/><rect x="30.2" y="164" width="1.2" height="16" fill="#33437e" opacity="0.6"/><path d="M28.4,180.4 L37.4,180.4 L37.4,179 L39,178 L46,178 L50.6,181.6 L50.8,194 L28.4,194 Z" fill="#4b5fa3"/><rect x="28.4" y="191.4" width="22.4" height="2.6" fill="#33437e"/><path d="M38,180 L39.6,178.8 L45.8,178.8 L49.8,182 L50,190.6 L38,190.6 Z" fill="#9aa3bd"/><path d="M38.4,180.2 L44.5,179.4 L44.5,183 L41,185.4 L38.4,185.4 Z" fill="#fff" opacity="0.75"/><circle cx="46" cy="186.4" r="3.3" fill="#fff" opacity="0.4"/><rect x="38" y="188.2" width="4.4" height="1.6" fill="#fff" opacity="0.8"/><rect x="30.5" y="186" width="6" height="0.9" fill="#33437e" opacity="0.7"/></g>
<g transform="translate(252.3,0)"><rect x="7.9" y="162.2" width="7.4" height="12.4" rx="1.2" fill="#2dc1c1"/><rect x="8.3" y="165.4" width="1.5" height="8" fill="#1a8f94" opacity="0.45"/><rect x="14.9" y="164" width="0.9" height="3.6" fill="#2dc1c1"/><path d="M7.6,173.6 L15.6,173.6 L17.2,177.4 L18.5,179.2 L18.5,183.6 L17.6,184.4 L17.6,190 L16.4,192.8 L3.6,192.8 L2.9,190.4 L4.6,186.4 L5,183.4 L4.9,177 L6,175.4 Z" fill="#2dc1c1"/><rect x="0" y="176.8" width="1.9" height="6.8" rx="0.5" fill="#2dc1c1"/><rect x="1.5" y="177.9" width="4" height="4.6" fill="#2dc1c1"/><rect x="17.3" y="185" width="1.7" height="4.6" fill="#2dc1c1"/><path d="M8,181.4 L14,179 L14.4,180.4 L8.4,183 Z" fill="#fff" opacity="0.22"/><path d="M10.5,186 L13.5,184.6 L14.6,189 L11.5,190 Z" fill="#fff" opacity="0.16"/><rect x="9" y="176" width="1.2" height="14" fill="#1a8f94" opacity="0.25"/></g>
<g transform="translate(284.4,0)"><rect x="7.9" y="162.2" width="7.4" height="12.4" rx="1.2" fill="#d2353b"/><rect x="8.3" y="165.4" width="1.5" height="8" fill="#9a1f27" opacity="0.45"/><rect x="14.9" y="164" width="0.9" height="3.6" fill="#d2353b"/><path d="M7.6,173.6 L15.6,173.6 L17.2,177.4 L18.5,179.2 L18.5,183.6 L17.6,184.4 L17.6,190 L16.4,192.8 L3.6,192.8 L2.9,190.4 L4.6,186.4 L5,183.4 L4.9,177 L6,175.4 Z" fill="#d2353b"/><rect x="0" y="176.8" width="1.9" height="6.8" rx="0.5" fill="#d2353b"/><rect x="1.5" y="177.9" width="4" height="4.6" fill="#d2353b"/><rect x="17.3" y="185" width="1.7" height="4.6" fill="#d2353b"/><path d="M8,181.4 L14,179 L14.4,180.4 L8.4,183 Z" fill="#fff" opacity="0.22"/><path d="M10.5,186 L13.5,184.6 L14.6,189 L11.5,190 Z" fill="#fff" opacity="0.16"/><rect x="9" y="176" width="1.2" height="14" fill="#9a1f27" opacity="0.25"/></g>
<g transform="translate(546.2,0)"><rect x="7.9" y="162.2" width="7.4" height="12.4" rx="1.2" fill="#2dc1c1"/><rect x="8.3" y="165.4" width="1.5" height="8" fill="#1a8f94" opacity="0.45"/><rect x="14.9" y="164" width="0.9" height="3.6" fill="#2dc1c1"/><path d="M7.6,173.6 L15.6,173.6 L17.2,177.4 L18.5,179.2 L18.5,183.6 L17.6,184.4 L17.6,190 L16.4,192.8 L3.6,192.8 L2.9,190.4 L4.6,186.4 L5,183.4 L4.9,177 L6,175.4 Z" fill="#2dc1c1"/><rect x="0" y="176.8" width="1.9" height="6.8" rx="0.5" fill="#2dc1c1"/><rect x="1.5" y="177.9" width="4" height="4.6" fill="#2dc1c1"/><rect x="17.3" y="185" width="1.7" height="4.6" fill="#2dc1c1"/><path d="M8,181.4 L14,179 L14.4,180.4 L8.4,183 Z" fill="#fff" opacity="0.22"/><path d="M10.5,186 L13.5,184.6 L14.6,189 L11.5,190 Z" fill="#fff" opacity="0.16"/><rect x="9" y="176" width="1.2" height="14" fill="#1a8f94" opacity="0.25"/></g>
<g transform="translate(578.4,0)"><rect x="7.9" y="162.2" width="7.4" height="12.4" rx="1.2" fill="#d2353b"/><rect x="8.3" y="165.4" width="1.5" height="8" fill="#9a1f27" opacity="0.45"/><rect x="14.9" y="164" width="0.9" height="3.6" fill="#d2353b"/><path d="M7.6,173.6 L15.6,173.6 L17.2,177.4 L18.5,179.2 L18.5,183.6 L17.6,184.4 L17.6,190 L16.4,192.8 L3.6,192.8 L2.9,190.4 L4.6,186.4 L5,183.4 L4.9,177 L6,175.4 Z" fill="#d2353b"/><rect x="0" y="176.8" width="1.9" height="6.8" rx="0.5" fill="#d2353b"/><rect x="1.5" y="177.9" width="4" height="4.6" fill="#d2353b"/><rect x="17.3" y="185" width="1.7" height="4.6" fill="#d2353b"/><path d="M8,181.4 L14,179 L14.4,180.4 L8.4,183 Z" fill="#fff" opacity="0.22"/><path d="M10.5,186 L13.5,184.6 L14.6,189 L11.5,190 Z" fill="#fff" opacity="0.16"/><rect x="9" y="176" width="1.2" height="14" fill="#9a1f27" opacity="0.25"/></g>
<g transform="translate(0.0,0)"><path d="M391.2,178.2 L415.2,178.2 L415.2,190.5 Q415.2,193.2 412.5,193.2 L393.9,193.2 Q391.2,193.2 391.2,190.5 Z" fill="url(#gJar)"/><path d="M397,165.2 Q397,167 394.2,168.4 Q391,170 391,173 L391,190.2 Q391,193.3 394.1,193.3 L412.3,193.3 Q415.4,193.3 415.4,190.2 L415.4,173 Q415.4,170 412.2,168.4 Q409.4,167 409.4,165.2" fill="none" stroke="#5b0d17" stroke-width="1.9"/><path d="M392.4,170 Q397.2,167.2 403.2,167.2 Q409.2,167.2 414,170" fill="none" stroke="#7a2a33" stroke-width="0.6"/><rect x="395.8" y="161.2" width="14.8" height="2.7" rx="1.2" fill="#5b0d17"/><rect x="397" y="163.8" width="12.4" height="1.6" fill="#fff" stroke="#5b0d17" stroke-width="0.5"/></g>
<g transform="translate(541.4000000000001,0)"><path d="M391.2,178.2 L415.2,178.2 L415.2,190.5 Q415.2,193.2 412.5,193.2 L393.9,193.2 Q391.2,193.2 391.2,190.5 Z" fill="url(#gJar)"/><path d="M397,165.2 Q397,167 394.2,168.4 Q391,170 391,173 L391,190.2 Q391,193.3 394.1,193.3 L412.3,193.3 Q415.4,193.3 415.4,190.2 L415.4,173 Q415.4,170 412.2,168.4 Q409.4,167 409.4,165.2" fill="none" stroke="#5b0d17" stroke-width="1.9"/><path d="M392.4,170 Q397.2,167.2 403.2,167.2 Q409.2,167.2 414,170" fill="none" stroke="#7a2a33" stroke-width="0.6"/><rect x="395.8" y="161.2" width="14.8" height="2.7" rx="1.2" fill="#5b0d17"/><rect x="397" y="163.8" width="12.4" height="1.6" fill="#fff" stroke="#5b0d17" stroke-width="0.5"/></g>
<g transform="translate(614.4000000000001,0)"><path d="M391.2,178.2 L415.2,178.2 L415.2,190.5 Q415.2,193.2 412.5,193.2 L393.9,193.2 Q391.2,193.2 391.2,190.5 Z" fill="url(#gJar)"/><path d="M397,165.2 Q397,167 394.2,168.4 Q391,170 391,173 L391,190.2 Q391,193.3 394.1,193.3 L412.3,193.3 Q415.4,193.3 415.4,190.2 L415.4,173 Q415.4,170 412.2,168.4 Q409.4,167 409.4,165.2" fill="none" stroke="#5b0d17" stroke-width="1.9"/><path d="M392.4,170 Q397.2,167.2 403.2,167.2 Q409.2,167.2 414,170" fill="none" stroke="#7a2a33" stroke-width="0.6"/><rect x="395.8" y="161.2" width="14.8" height="2.7" rx="1.2" fill="#5b0d17"/><rect x="397" y="163.8" width="12.4" height="1.6" fill="#fff" stroke="#5b0d17" stroke-width="0.5"/></g>
<g>
<path d="M1078.6,170 L1082.2,170 L1082.6,176 L1085.6,178.6 L1086.6,180.2 Q1087.6,184 1086,188 L1083.6,190.4 L1084,191.6 L1077.6,191.6 L1078,190.4 L1075.8,188 Q1074.2,184 1075.4,180 L1076,178 L1078.2,176 Z" fill="#2140a4"/>
<ellipse cx="1081.3" cy="183.6" rx="3.8" ry="4.8" fill="#e6ebf1"/>
<ellipse cx="1081.3" cy="183.6" rx="3.8" ry="4.8" fill="none" stroke="#8ea2c6" stroke-width="0.6"/>
<path d="M1075.8,166.6 Q1075.6,165.6 1077,165.6 L1085,166 L1087.4,167.4 L1087.4,169.2 L1084.6,170.4 L1078,170.6 Q1076,170.4 1075.8,169 Z" fill="#1c1c1e"/>
<g transform="rotate(-10 1090 168.2)"><ellipse cx="1090" cy="168.2" rx="3.7" ry="6.6" fill="none" stroke="#1c1c1e" stroke-width="2"/><path d="M1090,161.8 L1090,174.6 M1086.6,165.2 L1093.4,171.2 M1086.6,171.2 L1093.4,165.2" stroke="#1c1c1e" stroke-width="1.3"/></g>
</g>
<rect x="1123.2" y="160.8" width="30.8" height="25.4" fill="none" stroke="#5b141c" stroke-width="1.7"/>
<path d="M1123.2,181 L1154,181" fill="none" stroke="#5b141c" stroke-width="1.1" />
<path d="M1138.5,186.5 L1138.5,190" fill="none" stroke="#5b141c" stroke-width="1.6" />
<path d="M1130.8,190.4 L1146,190.4" fill="none" stroke="#5b141c" stroke-width="2" />
<path d="M1127.2,174.4 L1133,168.8 L1139.4,176.2 L1149.4,166.2" fill="none" stroke="#5b141c" stroke-width="1.9" stroke-linejoin="miter"/>
<g>
<rect x="275.6" y="326" width="1.9" height="14.399999999999977" fill="#9aa0a6"/>
<rect x="274.5" y="339.5" width="4.2" height="1.2" fill="#8c9298"/>
<rect x="289.1" y="328" width="1.9" height="9.5" fill="#9aa0a6"/>
<rect x="288" y="336.6" width="4.2" height="1.2" fill="#8c9298"/>
<rect x="308.1" y="330" width="1.9" height="12.399999999999977" fill="#9aa0a6"/>
<rect x="307" y="341.5" width="4.2" height="1.2" fill="#8c9298"/>
<rect x="321.6" y="327" width="1.9" height="12.600000000000023" fill="#9aa0a6"/>
<rect x="320.5" y="338.70000000000005" width="4.2" height="1.2" fill="#8c9298"/>
<path d="M275.2,305.6 L313.5,308.2 L313.5,327.6 L302,329.4 L275.6,326.6 Z" fill="#bcc2c7"/>
<path d="M313.5,308.2 L328,305.4 L328,320.6 L322,327.5 L313.5,327.6 Z" fill="#98a2aa"/>
<path d="M314.6,316.6 L327.8,313.6 L327.8,320.8 L321.8,327.6 L316,327 Z" fill="#6b7782"/>
<path d="M275,305 L284,301.8 L328,304.4 L313.8,308.8 Z" fill="#56616b"/>
<path d="M275,305 L313.8,308.6 L313.8,309.6 L275,306.2 Z" fill="#8a939b"/>
<rect x="277.6" y="308" width="3.4" height="1.8" fill="#2d5f9a"/><rect x="278" y="321" width="3.6" height="1.8" fill="#2d5f9a"/><rect x="303.5" y="311.6" width="3" height="1.4" fill="#3a6fa8"/>
<rect x="277" y="317.6" width="5" height="2.4" fill="#6d747a"/>
<rect x="284" y="316" width="7.6" height="10.6" fill="#b5aca0"/>
<rect x="292.5" y="309.5" width="8" height="17" fill="#d3d7da"/><rect x="295.6" y="316.4" width="2.6" height="8" fill="#8c7a66"/><rect x="276" y="310.5" width="7.4" height="5.5" fill="#a9b0b6"/>
<rect x="301.6" y="314" width="8.2" height="4.6" rx="1" fill="#d98218"/><rect x="303" y="315" width="2" height="2.4" fill="#5a3208"/><rect x="306.4" y="315" width="2" height="2.4" fill="#5a3208"/>
<rect x="300.6" y="318.8" width="6.6" height="9.6" fill="#5f7690"/><rect x="302.2" y="320.2" width="3.2" height="7.4" fill="#a7a9a8"/>
<path d="M307.5,326 L322,324 L322,327.6 L309,330 Z" fill="#a4a9ad"/>
</g>
<g transform="translate(0,0)"><path d="M138,490 Q137.2,484 143,481.6 Q151,478.2 160.5,479.2 Q166.2,480 166.6,485 L166.4,490 Z" fill="#4b5252"/><rect x="138.4" y="489.6" width="28.4" height="1.8" fill="#c9cfcf"/><rect x="136.4" y="491.2" width="31.6" height="13.6" fill="#f2a032"/><rect x="136.4" y="491.2" width="31.6" height="1.6" fill="#f7b85a"/><rect x="139.6" y="496" width="22.6" height="2.3" fill="#5a5a58"/><path d="M167.4,481 L179.4,481 L186.8,493 L186.8,504.8 L167.4,504.8 Z" fill="#f2a032"/><path d="M169.8,483 L178.3,483 L183.8,492 L169.8,492 Z" fill="#a5e3f2"/><path d="M172,483 L175.4,483 L171.4,492 L169.8,492 L169.8,488 Z" fill="#d4f3fa" opacity="0.8"/><rect x="166.6" y="481" width="1.2" height="23.8" fill="#d98a22"/><rect x="168.4" y="500.4" width="20.2" height="5.2" fill="#a9adb0"/><rect x="180.2" y="496.6" width="6.6" height="3.4" fill="#6b5a3c"/><rect x="180.2" y="497.7" width="6.6" height="0.8" fill="#f2a032"/><rect x="150" y="504.6" width="18" height="1.6" fill="#b9bdc0"/><circle cx="145.5" cy="506.3" r="4.7" fill="#3b3b3b"/><circle cx="145.5" cy="506.3" r="2.2" fill="#8a8a8a"/><circle cx="145.5" cy="506.3" r="1" fill="#4a4a4a"/><circle cx="175.8" cy="506.3" r="4.7" fill="#3b3b3b"/><circle cx="175.8" cy="506.3" r="2.2" fill="#8a8a8a"/><circle cx="175.8" cy="506.3" r="1" fill="#4a4a4a"/></g>
<g transform="translate(761.6,-1.8)"><path d="M138,490 Q137.2,484 143,481.6 Q151,478.2 160.5,479.2 Q166.2,480 166.6,485 L166.4,490 Z" fill="#4b5252"/><rect x="138.4" y="489.6" width="28.4" height="1.8" fill="#c9cfcf"/><rect x="136.4" y="491.2" width="31.6" height="13.6" fill="#f2a032"/><rect x="136.4" y="491.2" width="31.6" height="1.6" fill="#f7b85a"/><rect x="139.6" y="496" width="22.6" height="2.3" fill="#5a5a58"/><path d="M167.4,481 L179.4,481 L186.8,493 L186.8,504.8 L167.4,504.8 Z" fill="#f2a032"/><path d="M169.8,483 L178.3,483 L183.8,492 L169.8,492 Z" fill="#a5e3f2"/><path d="M172,483 L175.4,483 L171.4,492 L169.8,492 L169.8,488 Z" fill="#d4f3fa" opacity="0.8"/><rect x="166.6" y="481" width="1.2" height="23.8" fill="#d98a22"/><rect x="168.4" y="500.4" width="20.2" height="5.2" fill="#a9adb0"/><rect x="180.2" y="496.6" width="6.6" height="3.4" fill="#6b5a3c"/><rect x="180.2" y="497.7" width="6.6" height="0.8" fill="#f2a032"/><rect x="150" y="504.6" width="18" height="1.6" fill="#b9bdc0"/><circle cx="145.5" cy="506.3" r="4.7" fill="#3b3b3b"/><circle cx="145.5" cy="506.3" r="2.2" fill="#8a8a8a"/><circle cx="145.5" cy="506.3" r="1" fill="#4a4a4a"/><circle cx="175.8" cy="506.3" r="4.7" fill="#3b3b3b"/><circle cx="175.8" cy="506.3" r="2.2" fill="#8a8a8a"/><circle cx="175.8" cy="506.3" r="1" fill="#4a4a4a"/></g>
<polygon points="197.0,481.2 202.0,481.2 208.5,493.6 202.0,506.0 197.0,506.0 203.5,493.6" fill="#6a131b"/>
<polygon points="205.2,481.2 210.2,481.2 216.7,493.6 210.2,506.0 205.2,506.0 211.7,493.6" fill="#6a131b"/>
<polygon points="957.4,479.8 962.4,479.8 969.2,492.1 962.4,504.4 957.4,504.4 964.2,492.1" fill="#6a131b"/>
<polygon points="965.6,479.8 970.6,479.8 977.4,492.1 970.6,504.4 965.6,504.4 972.4,492.1" fill="#6a131b"/>
<path d="M760.4,471.8 L830.2,471.8" fill="none" stroke="#5e1a22" stroke-width="1.6" />
<path d="M766.8,471.8 L766.8,509" fill="none" stroke="#5e1a22" stroke-width="1.5" />
<path d="M823.2,471.8 L823.2,509" fill="none" stroke="#5e1a22" stroke-width="1.5" />
<path d="M749.6,509 L842.6,509" fill="none" stroke="#8c5f65" stroke-width="1.2" />
<g>
<rect x="779.4" y="486" width="1.8" height="4.4" fill="#8a5a3a"/>
<path d="M771.4,489.6 L786.6,489.6 L786.6,493.6 L785.4,493.6 L785.4,504.2 L775.6,504.2 L775.6,497 L771.4,496.4 Z" fill="#3bb9ba"/>
<rect x="778.4" y="495.4" width="4.2" height="5.4" fill="#2a9597"/><rect x="779.4" y="496.4" width="2.2" height="3.2" fill="#7fd6d6"/>
<rect x="775.8" y="504" width="1.2" height="3.6" fill="#9aa0a4"/><rect x="784" y="504" width="1.2" height="3.6" fill="#9aa0a4"/>
<path d="M787.4,491 L790.6,493 L791.6,499 L790.2,499 L789.2,494 L787.4,493 Z" fill="#2fa7a8"/>
<path d="M791.6,502.2 L818.6,495.6 L818.6,497 L793,503.6 L793,507.4 L791.6,507.4 Z" fill="#9aa0a4"/>
<rect x="792" y="504.6" width="24.6" height="1" fill="#b0b5b8"/><rect x="815.6" y="497.4" width="1.4" height="10" fill="#9aa0a4"/><rect x="806" y="500" width="1.2" height="5" fill="#9aa0a4"/>
<path d="M791.4,492.2 Q791,490.8 792.6,490.4 L817.6,484.4 L819.4,494.6 L794,501.4 Q792.2,501.6 792,500 Z" fill="#3bb9ba"/>
<path d="M792.6,493.6 L818,487.4 L818.3,489 L793,495.4 Z" fill="#7fd6d6" opacity="0.6"/>
<ellipse cx="818.6" cy="488.6" rx="1.7" ry="4.6" transform="rotate(-12 818.6 488.6)" fill="#8a4a1e"/>
</g>
</svg></body></html>
